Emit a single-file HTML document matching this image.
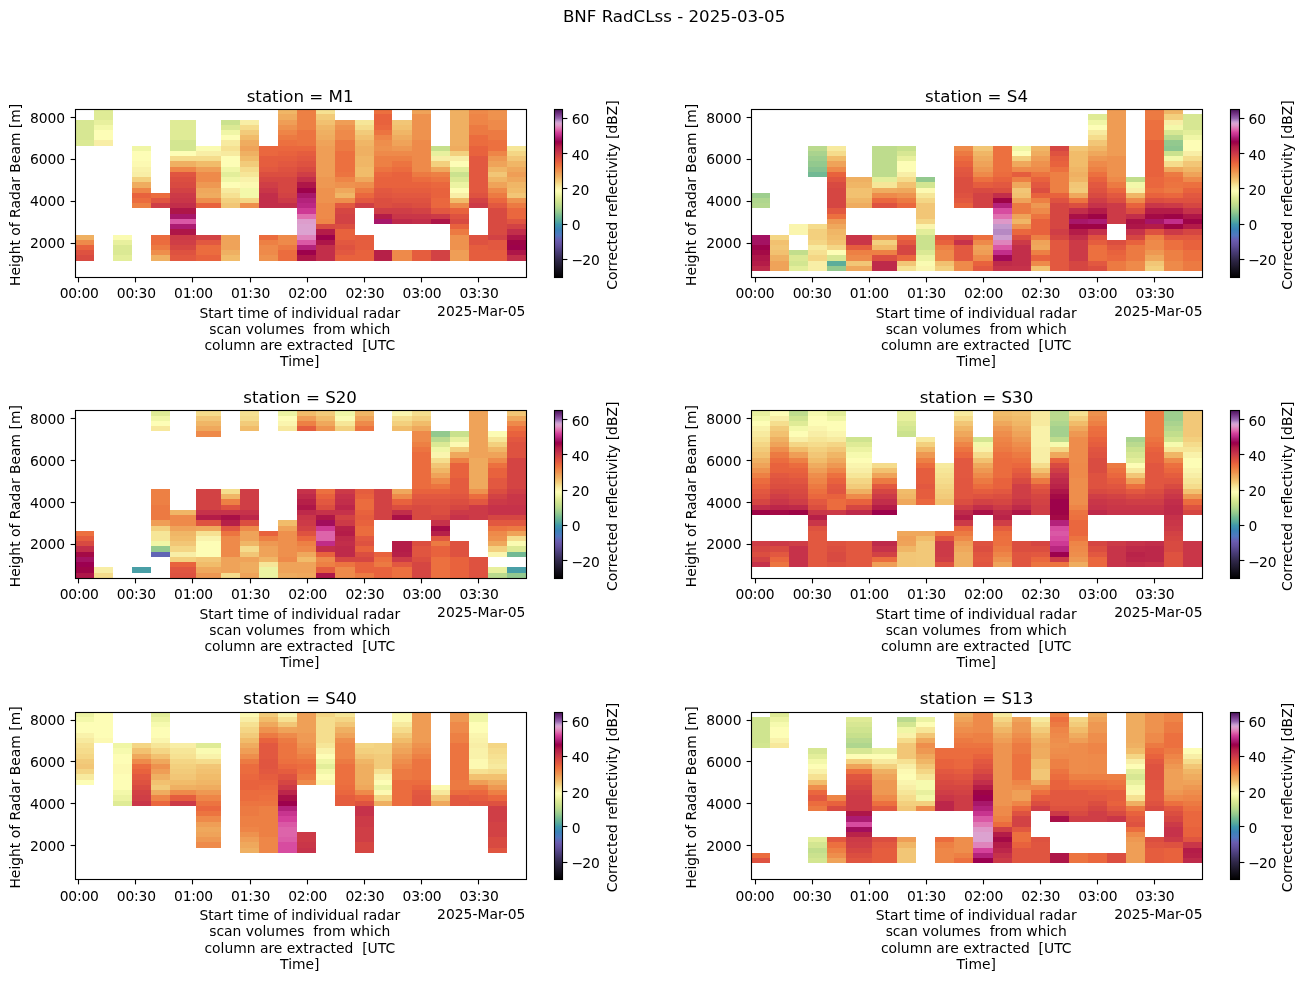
<!DOCTYPE html>
<html><head><meta charset="utf-8"><title>BNF RadCLss - 2025-03-05</title>
<style>html,body{margin:0;padding:0;background:#fff}svg{display:block}</style></head>
<body>
<svg width="1307" height="981" viewBox="0 0 1307 981" font-family="'DejaVu Sans', 'Liberation Sans', sans-serif" fill="#000">
<rect width="1307" height="981" fill="#fff"/>
<text x="674.1" y="21.9" font-size="16.67" text-anchor="middle">BNF RadCLss - 2025-03-05</text>
<defs><linearGradient id="cb" x1="0" y1="1" x2="0" y2="0">
<stop offset="0.0000" stop-color="#000000"/>
<stop offset="0.0105" stop-color="#050407"/>
<stop offset="0.0211" stop-color="#0a080e"/>
<stop offset="0.0316" stop-color="#0e0c15"/>
<stop offset="0.0421" stop-color="#13101c"/>
<stop offset="0.0526" stop-color="#181423"/>
<stop offset="0.0632" stop-color="#1d182b"/>
<stop offset="0.0737" stop-color="#221c33"/>
<stop offset="0.0842" stop-color="#26203a"/>
<stop offset="0.0947" stop-color="#2b2442"/>
<stop offset="0.1053" stop-color="#30284a"/>
<stop offset="0.1158" stop-color="#362d54"/>
<stop offset="0.1263" stop-color="#3b315e"/>
<stop offset="0.1368" stop-color="#413668"/>
<stop offset="0.1474" stop-color="#463a72"/>
<stop offset="0.1579" stop-color="#4c3f7c"/>
<stop offset="0.1684" stop-color="#524486"/>
<stop offset="0.1789" stop-color="#594990"/>
<stop offset="0.1895" stop-color="#5f4e9a"/>
<stop offset="0.2000" stop-color="#6353a1"/>
<stop offset="0.2105" stop-color="#6657a9"/>
<stop offset="0.2211" stop-color="#6a5cb0"/>
<stop offset="0.2316" stop-color="#6165b5"/>
<stop offset="0.2421" stop-color="#596fbb"/>
<stop offset="0.2526" stop-color="#5078c0"/>
<stop offset="0.2632" stop-color="#497bbd"/>
<stop offset="0.2737" stop-color="#427fbb"/>
<stop offset="0.2842" stop-color="#3b82b8"/>
<stop offset="0.2947" stop-color="#3c89b4"/>
<stop offset="0.3053" stop-color="#3e91b0"/>
<stop offset="0.3158" stop-color="#3f98ac"/>
<stop offset="0.3263" stop-color="#4ba1a4"/>
<stop offset="0.3368" stop-color="#57aa9c"/>
<stop offset="0.3474" stop-color="#62b099"/>
<stop offset="0.3579" stop-color="#6db695"/>
<stop offset="0.3684" stop-color="#78bc92"/>
<stop offset="0.3789" stop-color="#86c290"/>
<stop offset="0.3895" stop-color="#93c98e"/>
<stop offset="0.4000" stop-color="#9ece8e"/>
<stop offset="0.4105" stop-color="#aad38e"/>
<stop offset="0.4211" stop-color="#b5d88e"/>
<stop offset="0.4316" stop-color="#bedc8d"/>
<stop offset="0.4421" stop-color="#c7e08c"/>
<stop offset="0.4526" stop-color="#cfe48f"/>
<stop offset="0.4632" stop-color="#d7e793"/>
<stop offset="0.4737" stop-color="#dfeb96"/>
<stop offset="0.4842" stop-color="#e8f09e"/>
<stop offset="0.4947" stop-color="#f0f6a6"/>
<stop offset="0.5053" stop-color="#f6faae"/>
<stop offset="0.5158" stop-color="#fdfdb6"/>
<stop offset="0.5263" stop-color="#faf5ae"/>
<stop offset="0.5368" stop-color="#f8eea6"/>
<stop offset="0.5474" stop-color="#f6e698"/>
<stop offset="0.5579" stop-color="#f5dc8c"/>
<stop offset="0.5684" stop-color="#f3d07e"/>
<stop offset="0.5789" stop-color="#f2c676"/>
<stop offset="0.5895" stop-color="#f1bc6a"/>
<stop offset="0.6000" stop-color="#efb062"/>
<stop offset="0.6105" stop-color="#efa85c"/>
<stop offset="0.6211" stop-color="#ef9e56"/>
<stop offset="0.6316" stop-color="#ee924e"/>
<stop offset="0.6421" stop-color="#ee8a4a"/>
<stop offset="0.6526" stop-color="#ed8044"/>
<stop offset="0.6632" stop-color="#ec7440"/>
<stop offset="0.6737" stop-color="#eb6c3e"/>
<stop offset="0.6842" stop-color="#e8623d"/>
<stop offset="0.6947" stop-color="#e25840"/>
<stop offset="0.7053" stop-color="#de5240"/>
<stop offset="0.7158" stop-color="#d84a41"/>
<stop offset="0.7263" stop-color="#d24244"/>
<stop offset="0.7368" stop-color="#cc3a47"/>
<stop offset="0.7474" stop-color="#c6324a"/>
<stop offset="0.7579" stop-color="#be2a4a"/>
<stop offset="0.7684" stop-color="#b92349"/>
<stop offset="0.7789" stop-color="#b41c48"/>
<stop offset="0.7895" stop-color="#a91047"/>
<stop offset="0.8000" stop-color="#9e0446"/>
<stop offset="0.8105" stop-color="#9c0050"/>
<stop offset="0.8211" stop-color="#a41262"/>
<stop offset="0.8316" stop-color="#ac1c72"/>
<stop offset="0.8421" stop-color="#bc2884"/>
<stop offset="0.8526" stop-color="#c8348f"/>
<stop offset="0.8632" stop-color="#d4409a"/>
<stop offset="0.8737" stop-color="#da58a5"/>
<stop offset="0.8842" stop-color="#e070b0"/>
<stop offset="0.8947" stop-color="#df84bc"/>
<stop offset="0.9053" stop-color="#de98c8"/>
<stop offset="0.9158" stop-color="#dca2d0"/>
<stop offset="0.9263" stop-color="#c89ed0"/>
<stop offset="0.9368" stop-color="#ae80be"/>
<stop offset="0.9474" stop-color="#9462ac"/>
<stop offset="0.9579" stop-color="#884f9d"/>
<stop offset="0.9684" stop-color="#7b3c8e"/>
<stop offset="0.9789" stop-color="#6b2e7c"/>
<stop offset="0.9895" stop-color="#5a206b"/>
<stop offset="1.0000" stop-color="#4a1259"/>
</linearGradient></defs>
<g>
<g shape-rendering="crispEdges">
<rect x="75" y="120" width="19" height="20" fill="#d7e793"/>
<rect x="75" y="140" width="19" height="6" fill="#dbe994"/>
<rect x="75" y="235" width="19" height="5" fill="#efb062"/>
<rect x="75" y="240" width="19" height="5" fill="#ee8a4a"/>
<rect x="75" y="245" width="19" height="5" fill="#e8623d"/>
<rect x="75" y="250" width="19" height="5" fill="#de5240"/>
<rect x="75" y="255" width="19" height="6" fill="#d84a41"/>
<rect x="94" y="109" width="19" height="11" fill="#dfeb96"/>
<rect x="94" y="120" width="19" height="5" fill="#e8f09e"/>
<rect x="94" y="125" width="19" height="5" fill="#f3f8aa"/>
<rect x="94" y="130" width="19" height="10" fill="#fdfdb6"/>
<rect x="94" y="140" width="19" height="6" fill="#f8eea6"/>
<rect x="113" y="235" width="19" height="5" fill="#fafbb2"/>
<rect x="113" y="240" width="19" height="5" fill="#e8f09e"/>
<rect x="113" y="245" width="19" height="10" fill="#dbe994"/>
<rect x="113" y="255" width="19" height="6" fill="#e3ee9a"/>
<rect x="132" y="146" width="19" height="5" fill="#f0f6a6"/>
<rect x="132" y="151" width="19" height="10" fill="#fdfdb6"/>
<rect x="132" y="161" width="19" height="6" fill="#fcf9b2"/>
<rect x="132" y="167" width="19" height="5" fill="#f9f2aa"/>
<rect x="132" y="172" width="19" height="5" fill="#f8eea6"/>
<rect x="132" y="177" width="19" height="5" fill="#f3d07e"/>
<rect x="132" y="182" width="19" height="6" fill="#efac5f"/>
<rect x="132" y="188" width="19" height="5" fill="#ee8547"/>
<rect x="132" y="193" width="19" height="5" fill="#e8623d"/>
<rect x="132" y="198" width="19" height="5" fill="#eb6c3e"/>
<rect x="132" y="203" width="19" height="5" fill="#ed8044"/>
<rect x="151" y="193" width="19" height="5" fill="#eb6c3e"/>
<rect x="151" y="198" width="19" height="5" fill="#e05540"/>
<rect x="151" y="203" width="19" height="5" fill="#cf3e46"/>
<rect x="151" y="235" width="19" height="10" fill="#eb6c3e"/>
<rect x="151" y="245" width="19" height="5" fill="#ec7a42"/>
<rect x="151" y="250" width="19" height="5" fill="#ee8e4c"/>
<rect x="151" y="255" width="19" height="6" fill="#efb062"/>
<rect x="170" y="120" width="26" height="20" fill="#dfeb96"/>
<rect x="170" y="140" width="26" height="11" fill="#d3e691"/>
<rect x="170" y="151" width="26" height="5" fill="#fdfdb6"/>
<rect x="170" y="156" width="26" height="5" fill="#f5dc8c"/>
<rect x="170" y="161" width="26" height="6" fill="#efb062"/>
<rect x="170" y="167" width="26" height="5" fill="#ee8547"/>
<rect x="170" y="172" width="26" height="5" fill="#e05540"/>
<rect x="170" y="177" width="26" height="5" fill="#db4e40"/>
<rect x="170" y="182" width="26" height="6" fill="#d84a41"/>
<rect x="170" y="188" width="26" height="5" fill="#d24244"/>
<rect x="170" y="193" width="26" height="5" fill="#cc3a47"/>
<rect x="170" y="198" width="26" height="5" fill="#c93648"/>
<rect x="170" y="203" width="26" height="5" fill="#c22e4a"/>
<rect x="170" y="208" width="26" height="6" fill="#ae1648"/>
<rect x="170" y="214" width="26" height="5" fill="#a8176a"/>
<rect x="170" y="219" width="26" height="5" fill="#da58a5"/>
<rect x="170" y="224" width="26" height="5" fill="#ac1c72"/>
<rect x="170" y="229" width="26" height="6" fill="#ae1648"/>
<rect x="170" y="235" width="26" height="5" fill="#cc3a47"/>
<rect x="170" y="240" width="26" height="5" fill="#cf3e46"/>
<rect x="170" y="245" width="26" height="5" fill="#d54642"/>
<rect x="170" y="250" width="26" height="5" fill="#de5240"/>
<rect x="170" y="255" width="26" height="6" fill="#e25840"/>
<rect x="196" y="146" width="25" height="5" fill="#fafbb2"/>
<rect x="196" y="151" width="25" height="5" fill="#f8eea6"/>
<rect x="196" y="156" width="25" height="5" fill="#f5dc8c"/>
<rect x="196" y="161" width="25" height="6" fill="#f1bc6a"/>
<rect x="196" y="167" width="25" height="5" fill="#ef9e56"/>
<rect x="196" y="172" width="25" height="10" fill="#ee8a4a"/>
<rect x="196" y="182" width="25" height="6" fill="#ee9852"/>
<rect x="196" y="188" width="25" height="5" fill="#efa85c"/>
<rect x="196" y="193" width="25" height="5" fill="#efac5f"/>
<rect x="196" y="198" width="25" height="5" fill="#ee8e4c"/>
<rect x="196" y="203" width="25" height="5" fill="#e8623d"/>
<rect x="196" y="235" width="25" height="5" fill="#d24244"/>
<rect x="196" y="240" width="25" height="5" fill="#e25840"/>
<rect x="196" y="245" width="25" height="10" fill="#eb6c3e"/>
<rect x="196" y="255" width="25" height="6" fill="#e8623d"/>
<rect x="221" y="120" width="19" height="5" fill="#cbe28e"/>
<rect x="221" y="125" width="19" height="5" fill="#dbe994"/>
<rect x="221" y="130" width="19" height="5" fill="#f0f6a6"/>
<rect x="221" y="135" width="19" height="5" fill="#fdfdb6"/>
<rect x="221" y="140" width="19" height="6" fill="#f7ea9f"/>
<rect x="221" y="146" width="19" height="5" fill="#f6e192"/>
<rect x="221" y="151" width="19" height="5" fill="#f7ea9f"/>
<rect x="221" y="156" width="19" height="11" fill="#fdfdb6"/>
<rect x="221" y="167" width="19" height="5" fill="#f0f6a6"/>
<rect x="221" y="172" width="19" height="5" fill="#e3ee9a"/>
<rect x="221" y="177" width="19" height="5" fill="#f0f6a6"/>
<rect x="221" y="182" width="19" height="6" fill="#fdfdb6"/>
<rect x="221" y="188" width="19" height="5" fill="#f7ea9f"/>
<rect x="221" y="193" width="19" height="5" fill="#f6e192"/>
<rect x="221" y="198" width="19" height="5" fill="#f3d07e"/>
<rect x="221" y="203" width="19" height="5" fill="#f2c676"/>
<rect x="221" y="235" width="19" height="15" fill="#efa359"/>
<rect x="221" y="250" width="19" height="5" fill="#efb062"/>
<rect x="221" y="255" width="19" height="6" fill="#f1bc6a"/>
<rect x="240" y="120" width="19" height="5" fill="#f8eea6"/>
<rect x="240" y="125" width="19" height="5" fill="#f5dc8c"/>
<rect x="240" y="130" width="19" height="5" fill="#f2cb7a"/>
<rect x="240" y="135" width="19" height="5" fill="#f1bc6a"/>
<rect x="240" y="140" width="19" height="6" fill="#efac5f"/>
<rect x="240" y="146" width="19" height="5" fill="#efa359"/>
<rect x="240" y="151" width="19" height="5" fill="#efb062"/>
<rect x="240" y="156" width="19" height="5" fill="#f1bc6a"/>
<rect x="240" y="161" width="19" height="6" fill="#f2cb7a"/>
<rect x="240" y="167" width="19" height="5" fill="#f5dc8c"/>
<rect x="240" y="172" width="19" height="5" fill="#f6e698"/>
<rect x="240" y="177" width="19" height="5" fill="#f9f2aa"/>
<rect x="240" y="182" width="19" height="6" fill="#fcf9b2"/>
<rect x="240" y="188" width="19" height="10" fill="#f3f8aa"/>
<rect x="240" y="198" width="19" height="5" fill="#f4d685"/>
<rect x="240" y="203" width="19" height="5" fill="#ee8e4c"/>
<rect x="259" y="146" width="19" height="10" fill="#ea673e"/>
<rect x="259" y="156" width="19" height="11" fill="#e55d3e"/>
<rect x="259" y="167" width="19" height="5" fill="#e25840"/>
<rect x="259" y="172" width="19" height="5" fill="#db4e40"/>
<rect x="259" y="177" width="19" height="5" fill="#d54642"/>
<rect x="259" y="182" width="19" height="6" fill="#cf3e46"/>
<rect x="259" y="188" width="19" height="5" fill="#c93648"/>
<rect x="259" y="193" width="19" height="15" fill="#c22e4a"/>
<rect x="259" y="235" width="19" height="5" fill="#eb6c3e"/>
<rect x="259" y="240" width="19" height="5" fill="#ed8044"/>
<rect x="259" y="245" width="19" height="10" fill="#ee8a4a"/>
<rect x="259" y="255" width="19" height="6" fill="#ee924e"/>
<rect x="278" y="109" width="19" height="5" fill="#f0b666"/>
<rect x="278" y="114" width="19" height="6" fill="#efac5f"/>
<rect x="278" y="120" width="19" height="5" fill="#ef9e56"/>
<rect x="278" y="125" width="19" height="5" fill="#ee924e"/>
<rect x="278" y="130" width="19" height="5" fill="#ee8547"/>
<rect x="278" y="135" width="19" height="5" fill="#ec7a42"/>
<rect x="278" y="140" width="19" height="6" fill="#ec703f"/>
<rect x="278" y="146" width="19" height="5" fill="#ea673e"/>
<rect x="278" y="151" width="19" height="5" fill="#e8623d"/>
<rect x="278" y="156" width="19" height="5" fill="#e55d3e"/>
<rect x="278" y="161" width="19" height="6" fill="#e25840"/>
<rect x="278" y="167" width="19" height="5" fill="#de5240"/>
<rect x="278" y="172" width="19" height="5" fill="#db4e40"/>
<rect x="278" y="177" width="19" height="16" fill="#d54642"/>
<rect x="278" y="193" width="19" height="5" fill="#d24244"/>
<rect x="278" y="198" width="19" height="5" fill="#cc3a47"/>
<rect x="278" y="203" width="19" height="5" fill="#c22e4a"/>
<rect x="278" y="235" width="19" height="10" fill="#ee8a4a"/>
<rect x="278" y="245" width="19" height="5" fill="#ec7a42"/>
<rect x="278" y="250" width="19" height="11" fill="#eb6c3e"/>
<rect x="297" y="109" width="19" height="21" fill="#ed8044"/>
<rect x="297" y="130" width="19" height="16" fill="#ec7440"/>
<rect x="297" y="146" width="19" height="5" fill="#ea673e"/>
<rect x="297" y="151" width="19" height="5" fill="#e55d3e"/>
<rect x="297" y="156" width="19" height="5" fill="#e25840"/>
<rect x="297" y="161" width="19" height="6" fill="#de5240"/>
<rect x="297" y="167" width="19" height="5" fill="#d84a41"/>
<rect x="297" y="172" width="19" height="5" fill="#cf3e46"/>
<rect x="297" y="177" width="19" height="5" fill="#c22e4a"/>
<rect x="297" y="182" width="19" height="6" fill="#ae1648"/>
<rect x="297" y="188" width="19" height="5" fill="#9d024b"/>
<rect x="297" y="193" width="19" height="5" fill="#a8176a"/>
<rect x="297" y="198" width="19" height="5" fill="#b4227b"/>
<rect x="297" y="203" width="19" height="5" fill="#bc2884"/>
<rect x="297" y="208" width="19" height="6" fill="#ce3a94"/>
<rect x="297" y="214" width="19" height="5" fill="#e070b0"/>
<rect x="297" y="219" width="19" height="5" fill="#dd9dcc"/>
<rect x="297" y="224" width="19" height="11" fill="#dca2d0"/>
<rect x="297" y="235" width="19" height="5" fill="#df84bc"/>
<rect x="297" y="240" width="19" height="5" fill="#da58a5"/>
<rect x="297" y="245" width="19" height="5" fill="#b4227b"/>
<rect x="297" y="250" width="19" height="5" fill="#9d024b"/>
<rect x="297" y="255" width="19" height="6" fill="#ae1648"/>
<rect x="316" y="109" width="19" height="5" fill="#f6e192"/>
<rect x="316" y="114" width="19" height="6" fill="#f2cb7a"/>
<rect x="316" y="120" width="19" height="5" fill="#f2c170"/>
<rect x="316" y="125" width="19" height="5" fill="#f0b666"/>
<rect x="316" y="130" width="19" height="5" fill="#efb062"/>
<rect x="316" y="135" width="19" height="5" fill="#efac5f"/>
<rect x="316" y="140" width="19" height="6" fill="#efa359"/>
<rect x="316" y="146" width="19" height="31" fill="#ef9e56"/>
<rect x="316" y="177" width="19" height="11" fill="#ee9852"/>
<rect x="316" y="188" width="19" height="15" fill="#ee924e"/>
<rect x="316" y="203" width="19" height="16" fill="#ee8a4a"/>
<rect x="316" y="219" width="19" height="5" fill="#ee8547"/>
<rect x="316" y="224" width="19" height="5" fill="#d84a41"/>
<rect x="316" y="229" width="19" height="6" fill="#b41c48"/>
<rect x="316" y="235" width="19" height="5" fill="#9d024b"/>
<rect x="316" y="240" width="19" height="5" fill="#ae1648"/>
<rect x="316" y="245" width="19" height="16" fill="#c22e4a"/>
<rect x="335" y="120" width="20" height="5" fill="#ef9e56"/>
<rect x="335" y="125" width="20" height="5" fill="#ee924e"/>
<rect x="335" y="130" width="20" height="10" fill="#ee8a4a"/>
<rect x="335" y="140" width="20" height="11" fill="#ec7a42"/>
<rect x="335" y="151" width="20" height="21" fill="#ec703f"/>
<rect x="335" y="172" width="20" height="5" fill="#ec7440"/>
<rect x="335" y="177" width="20" height="5" fill="#ee8547"/>
<rect x="335" y="182" width="20" height="6" fill="#ee924e"/>
<rect x="335" y="188" width="20" height="5" fill="#efa85c"/>
<rect x="335" y="193" width="20" height="5" fill="#f0b666"/>
<rect x="335" y="198" width="20" height="5" fill="#ee8e4c"/>
<rect x="335" y="203" width="20" height="5" fill="#e25840"/>
<rect x="335" y="208" width="20" height="6" fill="#d54642"/>
<rect x="335" y="214" width="20" height="10" fill="#d24244"/>
<rect x="335" y="224" width="20" height="5" fill="#db4e40"/>
<rect x="335" y="229" width="20" height="11" fill="#e8623d"/>
<rect x="335" y="240" width="20" height="5" fill="#e25840"/>
<rect x="335" y="245" width="20" height="5" fill="#de5240"/>
<rect x="335" y="250" width="20" height="5" fill="#e25840"/>
<rect x="335" y="255" width="20" height="6" fill="#e8623d"/>
<rect x="355" y="120" width="19" height="5" fill="#f6e698"/>
<rect x="355" y="125" width="19" height="5" fill="#f5dc8c"/>
<rect x="355" y="130" width="19" height="5" fill="#f2cb7a"/>
<rect x="355" y="135" width="19" height="5" fill="#f2c170"/>
<rect x="355" y="140" width="19" height="6" fill="#f0b666"/>
<rect x="355" y="146" width="19" height="10" fill="#efb062"/>
<rect x="355" y="156" width="19" height="11" fill="#f0b666"/>
<rect x="355" y="167" width="19" height="10" fill="#f1bc6a"/>
<rect x="355" y="177" width="19" height="5" fill="#efa85c"/>
<rect x="355" y="182" width="19" height="6" fill="#ee8e4c"/>
<rect x="355" y="188" width="19" height="5" fill="#ec7a42"/>
<rect x="355" y="193" width="19" height="5" fill="#ea673e"/>
<rect x="355" y="198" width="19" height="5" fill="#e25840"/>
<rect x="355" y="203" width="19" height="5" fill="#cf3e46"/>
<rect x="355" y="235" width="19" height="15" fill="#e55d3e"/>
<rect x="355" y="250" width="19" height="11" fill="#e8623d"/>
<rect x="374" y="109" width="18" height="5" fill="#ec703f"/>
<rect x="374" y="114" width="18" height="11" fill="#e8623d"/>
<rect x="374" y="125" width="18" height="5" fill="#ea673e"/>
<rect x="374" y="130" width="18" height="5" fill="#ec7440"/>
<rect x="374" y="135" width="18" height="5" fill="#ee8547"/>
<rect x="374" y="140" width="18" height="6" fill="#ee8e4c"/>
<rect x="374" y="146" width="18" height="5" fill="#ee924e"/>
<rect x="374" y="151" width="18" height="5" fill="#ee8a4a"/>
<rect x="374" y="156" width="18" height="11" fill="#ed8044"/>
<rect x="374" y="167" width="18" height="5" fill="#ec7440"/>
<rect x="374" y="172" width="18" height="5" fill="#ea673e"/>
<rect x="374" y="177" width="18" height="11" fill="#e8623d"/>
<rect x="374" y="188" width="18" height="5" fill="#e25840"/>
<rect x="374" y="193" width="18" height="5" fill="#e05540"/>
<rect x="374" y="198" width="18" height="10" fill="#db4e40"/>
<rect x="374" y="208" width="18" height="6" fill="#cf3e46"/>
<rect x="374" y="214" width="18" height="5" fill="#b41c48"/>
<rect x="374" y="219" width="18" height="5" fill="#a8176a"/>
<rect x="374" y="250" width="18" height="11" fill="#b62048"/>
<rect x="392" y="120" width="20" height="5" fill="#f2c676"/>
<rect x="392" y="125" width="20" height="5" fill="#f2c170"/>
<rect x="392" y="130" width="20" height="5" fill="#f0b666"/>
<rect x="392" y="135" width="20" height="5" fill="#efac5f"/>
<rect x="392" y="140" width="20" height="6" fill="#efa359"/>
<rect x="392" y="146" width="20" height="5" fill="#ee9852"/>
<rect x="392" y="151" width="20" height="5" fill="#ee8a4a"/>
<rect x="392" y="156" width="20" height="5" fill="#ed8044"/>
<rect x="392" y="161" width="20" height="6" fill="#ec7440"/>
<rect x="392" y="167" width="20" height="5" fill="#eb6c3e"/>
<rect x="392" y="172" width="20" height="16" fill="#e8623d"/>
<rect x="392" y="188" width="20" height="5" fill="#e55d3e"/>
<rect x="392" y="193" width="20" height="5" fill="#e25840"/>
<rect x="392" y="198" width="20" height="5" fill="#de5240"/>
<rect x="392" y="203" width="20" height="5" fill="#d84a41"/>
<rect x="392" y="208" width="20" height="6" fill="#cf3e46"/>
<rect x="392" y="214" width="20" height="5" fill="#c93648"/>
<rect x="392" y="219" width="20" height="5" fill="#be2a4a"/>
<rect x="392" y="250" width="20" height="11" fill="#ee8a4a"/>
<rect x="412" y="109" width="19" height="5" fill="#efa359"/>
<rect x="412" y="114" width="19" height="26" fill="#ee924e"/>
<rect x="412" y="140" width="19" height="32" fill="#ee8a4a"/>
<rect x="412" y="172" width="19" height="5" fill="#ec7a42"/>
<rect x="412" y="177" width="19" height="5" fill="#eb6c3e"/>
<rect x="412" y="182" width="19" height="6" fill="#e8623d"/>
<rect x="412" y="188" width="19" height="5" fill="#e55d3e"/>
<rect x="412" y="193" width="19" height="5" fill="#e25840"/>
<rect x="412" y="198" width="19" height="5" fill="#de5240"/>
<rect x="412" y="203" width="19" height="5" fill="#db4e40"/>
<rect x="412" y="208" width="19" height="6" fill="#d24244"/>
<rect x="412" y="214" width="19" height="5" fill="#c93648"/>
<rect x="412" y="219" width="19" height="5" fill="#c22e4a"/>
<rect x="412" y="250" width="19" height="11" fill="#e55d3e"/>
<rect x="431" y="146" width="19" height="5" fill="#c7e08c"/>
<rect x="431" y="151" width="19" height="5" fill="#e8f09e"/>
<rect x="431" y="156" width="19" height="5" fill="#f8eea6"/>
<rect x="431" y="161" width="19" height="6" fill="#f3d07e"/>
<rect x="431" y="167" width="19" height="5" fill="#efa85c"/>
<rect x="431" y="172" width="19" height="5" fill="#ed8044"/>
<rect x="431" y="177" width="19" height="5" fill="#ec7440"/>
<rect x="431" y="182" width="19" height="6" fill="#ea673e"/>
<rect x="431" y="188" width="19" height="10" fill="#e8623d"/>
<rect x="431" y="198" width="19" height="10" fill="#ea673e"/>
<rect x="431" y="208" width="19" height="6" fill="#e25840"/>
<rect x="431" y="214" width="19" height="5" fill="#cc3a47"/>
<rect x="431" y="219" width="19" height="5" fill="#ae1648"/>
<rect x="431" y="250" width="19" height="11" fill="#d24244"/>
<rect x="450" y="109" width="19" height="37" fill="#efb062"/>
<rect x="450" y="146" width="19" height="5" fill="#efac5f"/>
<rect x="450" y="151" width="19" height="5" fill="#f3d07e"/>
<rect x="450" y="156" width="19" height="5" fill="#f8eea6"/>
<rect x="450" y="161" width="19" height="6" fill="#fdfdb6"/>
<rect x="450" y="167" width="19" height="5" fill="#e3ee9a"/>
<rect x="450" y="172" width="19" height="5" fill="#cbe28e"/>
<rect x="450" y="177" width="19" height="5" fill="#dbe994"/>
<rect x="450" y="182" width="19" height="6" fill="#ecf3a2"/>
<rect x="450" y="188" width="19" height="5" fill="#fdfdb6"/>
<rect x="450" y="193" width="19" height="5" fill="#f8eea6"/>
<rect x="450" y="198" width="19" height="5" fill="#f1bc6a"/>
<rect x="450" y="203" width="19" height="5" fill="#ee8a4a"/>
<rect x="450" y="208" width="19" height="6" fill="#e8623d"/>
<rect x="450" y="214" width="19" height="5" fill="#de5240"/>
<rect x="450" y="219" width="19" height="5" fill="#d84a41"/>
<rect x="450" y="224" width="19" height="5" fill="#e8623d"/>
<rect x="450" y="229" width="19" height="6" fill="#ec7a42"/>
<rect x="450" y="235" width="19" height="15" fill="#ee924e"/>
<rect x="450" y="250" width="19" height="11" fill="#ef9e56"/>
<rect x="469" y="109" width="19" height="5" fill="#ee8a4a"/>
<rect x="469" y="114" width="19" height="11" fill="#ee8547"/>
<rect x="469" y="125" width="19" height="10" fill="#ec7a42"/>
<rect x="469" y="135" width="19" height="11" fill="#eb6c3e"/>
<rect x="469" y="146" width="19" height="10" fill="#e8623d"/>
<rect x="469" y="156" width="19" height="37" fill="#e25840"/>
<rect x="469" y="193" width="19" height="5" fill="#de5240"/>
<rect x="469" y="198" width="19" height="5" fill="#d24244"/>
<rect x="469" y="203" width="19" height="5" fill="#cc3a47"/>
<rect x="469" y="235" width="19" height="10" fill="#de5240"/>
<rect x="469" y="245" width="19" height="16" fill="#e55d3e"/>
<rect x="488" y="109" width="19" height="11" fill="#ee924e"/>
<rect x="488" y="120" width="19" height="10" fill="#ee8a4a"/>
<rect x="488" y="130" width="19" height="10" fill="#ec7a42"/>
<rect x="488" y="140" width="19" height="11" fill="#ec703f"/>
<rect x="488" y="151" width="19" height="5" fill="#ee8547"/>
<rect x="488" y="156" width="19" height="5" fill="#ee9852"/>
<rect x="488" y="161" width="19" height="6" fill="#efa359"/>
<rect x="488" y="167" width="19" height="5" fill="#f0b666"/>
<rect x="488" y="172" width="19" height="5" fill="#f2c676"/>
<rect x="488" y="177" width="19" height="5" fill="#f0b666"/>
<rect x="488" y="182" width="19" height="6" fill="#efa359"/>
<rect x="488" y="188" width="19" height="5" fill="#ee8a4a"/>
<rect x="488" y="193" width="19" height="5" fill="#ec7a42"/>
<rect x="488" y="198" width="19" height="5" fill="#ea673e"/>
<rect x="488" y="203" width="19" height="5" fill="#e25840"/>
<rect x="488" y="208" width="19" height="27" fill="#d84a41"/>
<rect x="488" y="235" width="19" height="5" fill="#d24244"/>
<rect x="488" y="240" width="19" height="10" fill="#e25840"/>
<rect x="488" y="250" width="19" height="11" fill="#e55d3e"/>
<rect x="507" y="146" width="19" height="5" fill="#f6e698"/>
<rect x="507" y="151" width="19" height="5" fill="#f4d685"/>
<rect x="507" y="156" width="19" height="5" fill="#f2c676"/>
<rect x="507" y="161" width="19" height="6" fill="#f0b666"/>
<rect x="507" y="167" width="19" height="5" fill="#efa85c"/>
<rect x="507" y="172" width="19" height="5" fill="#ef9e56"/>
<rect x="507" y="177" width="19" height="5" fill="#efa85c"/>
<rect x="507" y="182" width="19" height="6" fill="#f0b666"/>
<rect x="507" y="188" width="19" height="5" fill="#f1bc6a"/>
<rect x="507" y="193" width="19" height="5" fill="#f2c676"/>
<rect x="507" y="198" width="19" height="5" fill="#ee924e"/>
<rect x="507" y="203" width="19" height="5" fill="#ec7a42"/>
<rect x="507" y="208" width="19" height="11" fill="#ea673e"/>
<rect x="507" y="219" width="19" height="5" fill="#e05540"/>
<rect x="507" y="224" width="19" height="5" fill="#d24244"/>
<rect x="507" y="229" width="19" height="6" fill="#c22e4a"/>
<rect x="507" y="235" width="19" height="5" fill="#ae1648"/>
<rect x="507" y="240" width="19" height="5" fill="#9e0446"/>
<rect x="507" y="245" width="19" height="5" fill="#9d024b"/>
<rect x="507" y="250" width="19" height="5" fill="#ae1648"/>
<rect x="507" y="255" width="19" height="6" fill="#c22e4a"/>
</g>
<rect x="75.5" y="109.5" width="451.0" height="168.0" fill="none" stroke="#000" stroke-width="1.11"/>
<text x="300.1" y="102.0" font-size="16.67" text-anchor="middle">station = M1</text>
<path d="M75.5 117.5h-4.9" stroke="#000" stroke-width="1.11"/>
<text x="65.2" y="122.5" font-size="13.89" text-anchor="end">8000</text>
<path d="M75.5 159.5h-4.9" stroke="#000" stroke-width="1.11"/>
<text x="65.2" y="164.3" font-size="13.89" text-anchor="end">6000</text>
<path d="M75.5 201.5h-4.9" stroke="#000" stroke-width="1.11"/>
<text x="65.2" y="206.2" font-size="13.89" text-anchor="end">4000</text>
<path d="M75.5 243.5h-4.9" stroke="#000" stroke-width="1.11"/>
<text x="65.2" y="248.0" font-size="13.89" text-anchor="end">2000</text>
<path d="M78.5 277.5v4.9" stroke="#000" stroke-width="1.11"/>
<text x="79.2" y="297.8" font-size="13.89" text-anchor="middle" letter-spacing="-0.2">00:00</text>
<path d="M135.5 277.5v4.9" stroke="#000" stroke-width="1.11"/>
<text x="136.3" y="297.8" font-size="13.89" text-anchor="middle" letter-spacing="-0.2">00:30</text>
<path d="M192.5 277.5v4.9" stroke="#000" stroke-width="1.11"/>
<text x="193.5" y="297.8" font-size="13.89" text-anchor="middle" letter-spacing="-0.2">01:00</text>
<path d="M250.5 277.5v4.9" stroke="#000" stroke-width="1.11"/>
<text x="250.6" y="297.8" font-size="13.89" text-anchor="middle" letter-spacing="-0.2">01:30</text>
<path d="M307.5 277.5v4.9" stroke="#000" stroke-width="1.11"/>
<text x="307.7" y="297.8" font-size="13.89" text-anchor="middle" letter-spacing="-0.2">02:00</text>
<path d="M364.5 277.5v4.9" stroke="#000" stroke-width="1.11"/>
<text x="364.9" y="297.8" font-size="13.89" text-anchor="middle" letter-spacing="-0.2">02:30</text>
<path d="M421.5 277.5v4.9" stroke="#000" stroke-width="1.11"/>
<text x="422.0" y="297.8" font-size="13.89" text-anchor="middle" letter-spacing="-0.2">03:00</text>
<path d="M478.5 277.5v4.9" stroke="#000" stroke-width="1.11"/>
<text x="479.1" y="297.8" font-size="13.89" text-anchor="middle" letter-spacing="-0.2">03:30</text>
<text x="525.4" y="316.0" font-size="13.89" text-anchor="end">2025-Mar-05</text>
<text x="299.8" y="317.73" font-size="13.89" text-anchor="middle" xml:space="preserve">Start time of individual radar</text>
<text x="299.8" y="333.73" font-size="13.89" text-anchor="middle" xml:space="preserve">scan volumes  from which</text>
<text x="299.8" y="349.7" font-size="13.89" text-anchor="middle" xml:space="preserve">column are extracted  [UTC</text>
<text x="299.8" y="365.5" font-size="13.89" text-anchor="middle" xml:space="preserve">Time]</text>
<text transform="translate(19.9 194.9) rotate(-90)" font-size="13.89" text-anchor="middle">Height of Radar Beam [m]</text>
<rect x="554.5" y="109.5" width="8.0" height="168.0" fill="url(#cb)" stroke="#000" stroke-width="1.11"/>
<path d="M562.5 259.5h4.9" stroke="#000" stroke-width="1.11"/>
<text x="571.5" y="265.2" font-size="13.89">−<tspan dx="-0.9">20</tspan></text>
<path d="M562.5 224.5h4.9" stroke="#000" stroke-width="1.11"/>
<text x="571.8" y="230.0" font-size="13.89">0</text>
<path d="M562.5 188.5h4.9" stroke="#000" stroke-width="1.11"/>
<text x="571.8" y="194.8" font-size="13.89">20</text>
<path d="M562.5 153.5h4.9" stroke="#000" stroke-width="1.11"/>
<text x="571.8" y="159.6" font-size="13.89">40</text>
<path d="M562.5 118.5h4.9" stroke="#000" stroke-width="1.11"/>
<text x="571.8" y="124.3" font-size="13.89">60</text>
<text transform="translate(617.1 195.0) rotate(-90)" font-size="13.89" text-anchor="middle">Corrected reflectivity [dBZ]</text>
</g>
<g>
<g shape-rendering="crispEdges">
<rect x="751" y="193" width="19" height="5" fill="#9ece8e"/>
<rect x="751" y="198" width="19" height="5" fill="#afd68e"/>
<rect x="751" y="203" width="19" height="5" fill="#b5d88e"/>
<rect x="751" y="235" width="19" height="10" fill="#a41262"/>
<rect x="751" y="245" width="19" height="5" fill="#9d024b"/>
<rect x="751" y="250" width="19" height="5" fill="#a40a46"/>
<rect x="751" y="255" width="19" height="6" fill="#ae1648"/>
<rect x="751" y="261" width="19" height="5" fill="#b41c48"/>
<rect x="751" y="266" width="19" height="5" fill="#be2a4a"/>
<rect x="770" y="235" width="19" height="5" fill="#f4d685"/>
<rect x="770" y="240" width="19" height="5" fill="#f2c170"/>
<rect x="770" y="245" width="19" height="5" fill="#f2c676"/>
<rect x="770" y="250" width="19" height="5" fill="#f2c170"/>
<rect x="770" y="255" width="19" height="6" fill="#efb062"/>
<rect x="770" y="261" width="19" height="10" fill="#efa359"/>
<rect x="789" y="224" width="19" height="11" fill="#faf5ae"/>
<rect x="789" y="250" width="19" height="5" fill="#c2de8c"/>
<rect x="789" y="255" width="19" height="6" fill="#dbe994"/>
<rect x="789" y="261" width="19" height="5" fill="#d3e691"/>
<rect x="789" y="266" width="19" height="5" fill="#e3ee9a"/>
<rect x="808" y="146" width="19" height="5" fill="#bada8e"/>
<rect x="808" y="151" width="19" height="5" fill="#aad38e"/>
<rect x="808" y="156" width="19" height="5" fill="#9ece8e"/>
<rect x="808" y="161" width="19" height="6" fill="#93c98e"/>
<rect x="808" y="167" width="19" height="5" fill="#86c290"/>
<rect x="808" y="172" width="19" height="5" fill="#72b994"/>
<rect x="808" y="224" width="19" height="5" fill="#f5dc8c"/>
<rect x="808" y="229" width="19" height="11" fill="#f3d07e"/>
<rect x="808" y="240" width="19" height="5" fill="#f4d685"/>
<rect x="808" y="245" width="19" height="5" fill="#f7ea9f"/>
<rect x="808" y="250" width="19" height="5" fill="#f6e192"/>
<rect x="808" y="255" width="19" height="6" fill="#f4d685"/>
<rect x="808" y="261" width="19" height="10" fill="#f8eea6"/>
<rect x="827" y="146" width="19" height="5" fill="#f7ea9f"/>
<rect x="827" y="151" width="19" height="5" fill="#f5dc8c"/>
<rect x="827" y="156" width="19" height="5" fill="#f1bc6a"/>
<rect x="827" y="161" width="19" height="6" fill="#efa359"/>
<rect x="827" y="167" width="19" height="5" fill="#ee8a4a"/>
<rect x="827" y="172" width="19" height="5" fill="#e8623d"/>
<rect x="827" y="177" width="19" height="5" fill="#e05540"/>
<rect x="827" y="182" width="19" height="6" fill="#d84a41"/>
<rect x="827" y="188" width="19" height="20" fill="#d54642"/>
<rect x="827" y="208" width="19" height="6" fill="#e25840"/>
<rect x="827" y="214" width="19" height="5" fill="#ec703f"/>
<rect x="827" y="219" width="19" height="5" fill="#ee9852"/>
<rect x="827" y="224" width="19" height="5" fill="#efa85c"/>
<rect x="827" y="229" width="19" height="6" fill="#f0b666"/>
<rect x="827" y="235" width="19" height="5" fill="#f1bc6a"/>
<rect x="827" y="240" width="19" height="5" fill="#f2c170"/>
<rect x="827" y="245" width="19" height="5" fill="#f4d685"/>
<rect x="827" y="250" width="19" height="5" fill="#fdfdb6"/>
<rect x="827" y="255" width="19" height="6" fill="#d7e793"/>
<rect x="827" y="261" width="19" height="5" fill="#5cad9a"/>
<rect x="827" y="266" width="19" height="5" fill="#93c98e"/>
<rect x="846" y="177" width="26" height="5" fill="#efb062"/>
<rect x="846" y="182" width="26" height="6" fill="#f0b666"/>
<rect x="846" y="188" width="26" height="10" fill="#f2c170"/>
<rect x="846" y="198" width="26" height="5" fill="#f0b666"/>
<rect x="846" y="203" width="26" height="5" fill="#efac5f"/>
<rect x="846" y="235" width="26" height="10" fill="#c93648"/>
<rect x="846" y="245" width="26" height="5" fill="#e55d3e"/>
<rect x="846" y="250" width="26" height="5" fill="#ed8044"/>
<rect x="846" y="255" width="26" height="6" fill="#ee8a4a"/>
<rect x="846" y="261" width="26" height="5" fill="#f2c676"/>
<rect x="846" y="266" width="26" height="5" fill="#efa85c"/>
<rect x="872" y="146" width="25" height="31" fill="#bedc8d"/>
<rect x="872" y="177" width="25" height="5" fill="#e3ee9a"/>
<rect x="872" y="182" width="25" height="6" fill="#f6e698"/>
<rect x="872" y="188" width="25" height="5" fill="#efac5f"/>
<rect x="872" y="193" width="25" height="5" fill="#ee8a4a"/>
<rect x="872" y="198" width="25" height="5" fill="#ea673e"/>
<rect x="872" y="203" width="25" height="5" fill="#de5240"/>
<rect x="872" y="235" width="25" height="5" fill="#ee9852"/>
<rect x="872" y="240" width="25" height="5" fill="#f3d07e"/>
<rect x="872" y="245" width="25" height="5" fill="#f1bc6a"/>
<rect x="872" y="250" width="25" height="5" fill="#ed8044"/>
<rect x="872" y="255" width="25" height="6" fill="#db4e40"/>
<rect x="872" y="261" width="25" height="10" fill="#be2a4a"/>
<rect x="897" y="146" width="19" height="5" fill="#c7e08c"/>
<rect x="897" y="151" width="19" height="5" fill="#d7e793"/>
<rect x="897" y="156" width="19" height="5" fill="#e8f09e"/>
<rect x="897" y="161" width="19" height="11" fill="#fdfdb6"/>
<rect x="897" y="172" width="19" height="5" fill="#f8eea6"/>
<rect x="897" y="177" width="19" height="5" fill="#f5dc8c"/>
<rect x="897" y="182" width="19" height="6" fill="#f2c170"/>
<rect x="897" y="188" width="19" height="5" fill="#efa85c"/>
<rect x="897" y="193" width="19" height="5" fill="#ee924e"/>
<rect x="897" y="198" width="19" height="5" fill="#ec7a42"/>
<rect x="897" y="203" width="19" height="5" fill="#ea673e"/>
<rect x="897" y="235" width="19" height="5" fill="#ea673e"/>
<rect x="897" y="240" width="19" height="5" fill="#e25840"/>
<rect x="897" y="245" width="19" height="10" fill="#d54642"/>
<rect x="897" y="255" width="19" height="6" fill="#ea673e"/>
<rect x="897" y="261" width="19" height="5" fill="#f2c676"/>
<rect x="897" y="266" width="19" height="5" fill="#f6e192"/>
<rect x="916" y="177" width="19" height="5" fill="#93c98e"/>
<rect x="916" y="182" width="19" height="6" fill="#d3e691"/>
<rect x="916" y="188" width="19" height="5" fill="#fcf9b2"/>
<rect x="916" y="193" width="19" height="5" fill="#f6e698"/>
<rect x="916" y="198" width="19" height="5" fill="#f4d685"/>
<rect x="916" y="203" width="19" height="16" fill="#f2c676"/>
<rect x="916" y="219" width="19" height="5" fill="#f4d685"/>
<rect x="916" y="224" width="19" height="5" fill="#faf5ae"/>
<rect x="916" y="229" width="19" height="6" fill="#e3ee9a"/>
<rect x="916" y="235" width="19" height="15" fill="#cbe28e"/>
<rect x="916" y="250" width="19" height="5" fill="#dbe994"/>
<rect x="916" y="255" width="19" height="6" fill="#ecf3a2"/>
<rect x="916" y="261" width="19" height="5" fill="#fafbb2"/>
<rect x="916" y="266" width="19" height="5" fill="#faf5ae"/>
<rect x="935" y="235" width="19" height="5" fill="#e25840"/>
<rect x="935" y="240" width="19" height="5" fill="#e8623d"/>
<rect x="935" y="245" width="19" height="5" fill="#ed8044"/>
<rect x="935" y="250" width="19" height="11" fill="#ee8a4a"/>
<rect x="935" y="261" width="19" height="5" fill="#f2c170"/>
<rect x="935" y="266" width="19" height="5" fill="#f3d07e"/>
<rect x="954" y="146" width="19" height="5" fill="#ee8a4a"/>
<rect x="954" y="151" width="19" height="5" fill="#ec7a42"/>
<rect x="954" y="156" width="19" height="5" fill="#eb6c3e"/>
<rect x="954" y="161" width="19" height="6" fill="#e8623d"/>
<rect x="954" y="167" width="19" height="5" fill="#e25840"/>
<rect x="954" y="172" width="19" height="5" fill="#e05540"/>
<rect x="954" y="177" width="19" height="16" fill="#db4e40"/>
<rect x="954" y="193" width="19" height="5" fill="#de5240"/>
<rect x="954" y="198" width="19" height="5" fill="#e25840"/>
<rect x="954" y="203" width="19" height="5" fill="#e8623d"/>
<rect x="954" y="235" width="19" height="5" fill="#d84a41"/>
<rect x="954" y="240" width="19" height="5" fill="#c6324a"/>
<rect x="954" y="245" width="19" height="16" fill="#e25840"/>
<rect x="954" y="261" width="19" height="10" fill="#ee8a4a"/>
<rect x="973" y="146" width="20" height="5" fill="#f2c676"/>
<rect x="973" y="151" width="20" height="5" fill="#f0b666"/>
<rect x="973" y="156" width="20" height="5" fill="#efac5f"/>
<rect x="973" y="161" width="20" height="6" fill="#efa359"/>
<rect x="973" y="167" width="20" height="5" fill="#ee9852"/>
<rect x="973" y="172" width="20" height="5" fill="#ee8a4a"/>
<rect x="973" y="177" width="20" height="5" fill="#ec703f"/>
<rect x="973" y="182" width="20" height="6" fill="#e55d3e"/>
<rect x="973" y="188" width="20" height="5" fill="#d84a41"/>
<rect x="973" y="193" width="20" height="15" fill="#d24244"/>
<rect x="973" y="235" width="20" height="5" fill="#ec703f"/>
<rect x="973" y="240" width="20" height="5" fill="#ee8a4a"/>
<rect x="973" y="245" width="20" height="5" fill="#efa359"/>
<rect x="973" y="250" width="20" height="5" fill="#ef9e56"/>
<rect x="973" y="255" width="20" height="6" fill="#ee8a4a"/>
<rect x="973" y="261" width="20" height="5" fill="#e8623d"/>
<rect x="973" y="266" width="20" height="5" fill="#e25840"/>
<rect x="993" y="146" width="19" height="26" fill="#ec703f"/>
<rect x="993" y="172" width="19" height="5" fill="#eb6c3e"/>
<rect x="993" y="177" width="19" height="5" fill="#e8623d"/>
<rect x="993" y="182" width="19" height="6" fill="#e25840"/>
<rect x="993" y="188" width="19" height="5" fill="#db4e40"/>
<rect x="993" y="193" width="19" height="5" fill="#c22e4a"/>
<rect x="993" y="198" width="19" height="5" fill="#9e0446"/>
<rect x="993" y="203" width="19" height="5" fill="#b4227b"/>
<rect x="993" y="208" width="19" height="6" fill="#d74ca0"/>
<rect x="993" y="214" width="19" height="5" fill="#e070b0"/>
<rect x="993" y="219" width="19" height="5" fill="#de98c8"/>
<rect x="993" y="224" width="19" height="5" fill="#c398cc"/>
<rect x="993" y="229" width="19" height="6" fill="#b689c3"/>
<rect x="993" y="235" width="19" height="5" fill="#cc9fd0"/>
<rect x="993" y="240" width="19" height="5" fill="#df84bc"/>
<rect x="993" y="245" width="19" height="5" fill="#da58a5"/>
<rect x="993" y="250" width="19" height="5" fill="#c22e8a"/>
<rect x="993" y="255" width="19" height="6" fill="#a00959"/>
<rect x="993" y="261" width="19" height="5" fill="#be2a4a"/>
<rect x="993" y="266" width="19" height="5" fill="#c6324a"/>
<rect x="1012" y="146" width="19" height="5" fill="#f0f6a6"/>
<rect x="1012" y="151" width="19" height="5" fill="#fdfdb6"/>
<rect x="1012" y="156" width="19" height="5" fill="#f3d07e"/>
<rect x="1012" y="161" width="19" height="6" fill="#efa85c"/>
<rect x="1012" y="167" width="19" height="5" fill="#ee8a4a"/>
<rect x="1012" y="172" width="19" height="5" fill="#e55d3e"/>
<rect x="1012" y="177" width="19" height="5" fill="#ed8044"/>
<rect x="1012" y="182" width="19" height="6" fill="#efa85c"/>
<rect x="1012" y="188" width="19" height="5" fill="#f2c676"/>
<rect x="1012" y="193" width="19" height="5" fill="#f2c170"/>
<rect x="1012" y="198" width="19" height="5" fill="#efa359"/>
<rect x="1012" y="203" width="19" height="11" fill="#ec7a42"/>
<rect x="1012" y="214" width="19" height="5" fill="#efa359"/>
<rect x="1012" y="219" width="19" height="5" fill="#f0b666"/>
<rect x="1012" y="224" width="19" height="5" fill="#ee924e"/>
<rect x="1012" y="229" width="19" height="6" fill="#ea673e"/>
<rect x="1012" y="235" width="19" height="5" fill="#db4e40"/>
<rect x="1012" y="240" width="19" height="5" fill="#cc3a47"/>
<rect x="1012" y="245" width="19" height="21" fill="#c22e4a"/>
<rect x="1012" y="266" width="19" height="5" fill="#c6324a"/>
<rect x="1031" y="146" width="19" height="5" fill="#f0b666"/>
<rect x="1031" y="151" width="19" height="5" fill="#efac5f"/>
<rect x="1031" y="156" width="19" height="5" fill="#ef9e56"/>
<rect x="1031" y="161" width="19" height="6" fill="#ee924e"/>
<rect x="1031" y="167" width="19" height="5" fill="#ee8a4a"/>
<rect x="1031" y="172" width="19" height="5" fill="#ec7440"/>
<rect x="1031" y="177" width="19" height="5" fill="#e8623d"/>
<rect x="1031" y="182" width="19" height="6" fill="#e25840"/>
<rect x="1031" y="188" width="19" height="5" fill="#db4e40"/>
<rect x="1031" y="193" width="19" height="5" fill="#e8623d"/>
<rect x="1031" y="198" width="19" height="5" fill="#ed8044"/>
<rect x="1031" y="203" width="19" height="5" fill="#ee9852"/>
<rect x="1031" y="208" width="19" height="6" fill="#ee8a4a"/>
<rect x="1031" y="214" width="19" height="5" fill="#ec7440"/>
<rect x="1031" y="219" width="19" height="16" fill="#e8623d"/>
<rect x="1031" y="235" width="19" height="5" fill="#ed8044"/>
<rect x="1031" y="240" width="19" height="5" fill="#efa359"/>
<rect x="1031" y="245" width="19" height="5" fill="#efa85c"/>
<rect x="1031" y="250" width="19" height="5" fill="#ed8044"/>
<rect x="1031" y="255" width="19" height="6" fill="#e8623d"/>
<rect x="1031" y="261" width="19" height="5" fill="#ee8a4a"/>
<rect x="1031" y="266" width="19" height="5" fill="#f2c170"/>
<rect x="1050" y="146" width="19" height="5" fill="#d54642"/>
<rect x="1050" y="151" width="19" height="5" fill="#de5240"/>
<rect x="1050" y="156" width="19" height="5" fill="#e55d3e"/>
<rect x="1050" y="161" width="19" height="6" fill="#e8623d"/>
<rect x="1050" y="167" width="19" height="5" fill="#ec703f"/>
<rect x="1050" y="172" width="19" height="21" fill="#ed8044"/>
<rect x="1050" y="193" width="19" height="5" fill="#e8623d"/>
<rect x="1050" y="198" width="19" height="5" fill="#de5240"/>
<rect x="1050" y="203" width="19" height="26" fill="#d54642"/>
<rect x="1050" y="229" width="19" height="6" fill="#cf3e46"/>
<rect x="1050" y="235" width="19" height="5" fill="#d54642"/>
<rect x="1050" y="240" width="19" height="31" fill="#e25840"/>
<rect x="1069" y="146" width="19" height="5" fill="#f2c676"/>
<rect x="1069" y="151" width="19" height="16" fill="#f1bc6a"/>
<rect x="1069" y="167" width="19" height="5" fill="#f0b666"/>
<rect x="1069" y="172" width="19" height="5" fill="#efb062"/>
<rect x="1069" y="177" width="19" height="5" fill="#f0b666"/>
<rect x="1069" y="182" width="19" height="6" fill="#f2c676"/>
<rect x="1069" y="188" width="19" height="5" fill="#f2cb7a"/>
<rect x="1069" y="193" width="19" height="5" fill="#efa85c"/>
<rect x="1069" y="198" width="19" height="5" fill="#ec7440"/>
<rect x="1069" y="203" width="19" height="5" fill="#db4e40"/>
<rect x="1069" y="208" width="19" height="6" fill="#c22e4a"/>
<rect x="1069" y="214" width="19" height="5" fill="#a91047"/>
<rect x="1069" y="219" width="19" height="5" fill="#a8176a"/>
<rect x="1069" y="224" width="19" height="5" fill="#9e0446"/>
<rect x="1069" y="229" width="19" height="6" fill="#b41c48"/>
<rect x="1069" y="235" width="19" height="5" fill="#c22e4a"/>
<rect x="1069" y="240" width="19" height="21" fill="#cc3a47"/>
<rect x="1069" y="261" width="19" height="10" fill="#d54642"/>
<rect x="1088" y="114" width="19" height="6" fill="#dfeb96"/>
<rect x="1088" y="120" width="19" height="5" fill="#f0f6a6"/>
<rect x="1088" y="125" width="19" height="5" fill="#fdfdb6"/>
<rect x="1088" y="130" width="19" height="5" fill="#f7ea9f"/>
<rect x="1088" y="135" width="19" height="5" fill="#f5dc8c"/>
<rect x="1088" y="140" width="19" height="6" fill="#f2c676"/>
<rect x="1088" y="146" width="19" height="5" fill="#f0b666"/>
<rect x="1088" y="151" width="19" height="5" fill="#efa85c"/>
<rect x="1088" y="156" width="19" height="5" fill="#ee9852"/>
<rect x="1088" y="161" width="19" height="6" fill="#ee8a4a"/>
<rect x="1088" y="167" width="19" height="5" fill="#ed8044"/>
<rect x="1088" y="172" width="19" height="5" fill="#ec703f"/>
<rect x="1088" y="177" width="19" height="5" fill="#e8623d"/>
<rect x="1088" y="182" width="19" height="6" fill="#e25840"/>
<rect x="1088" y="188" width="19" height="5" fill="#de5240"/>
<rect x="1088" y="193" width="19" height="5" fill="#d84a41"/>
<rect x="1088" y="198" width="19" height="5" fill="#cf3e46"/>
<rect x="1088" y="203" width="19" height="5" fill="#c6324a"/>
<rect x="1088" y="208" width="19" height="6" fill="#b41c48"/>
<rect x="1088" y="214" width="19" height="5" fill="#9e0446"/>
<rect x="1088" y="219" width="19" height="5" fill="#ac1c72"/>
<rect x="1088" y="224" width="19" height="5" fill="#9e0446"/>
<rect x="1088" y="229" width="19" height="6" fill="#c6324a"/>
<rect x="1088" y="235" width="19" height="5" fill="#de5240"/>
<rect x="1088" y="240" width="19" height="5" fill="#e55d3e"/>
<rect x="1088" y="245" width="19" height="16" fill="#ec703f"/>
<rect x="1088" y="261" width="19" height="5" fill="#e25840"/>
<rect x="1088" y="266" width="19" height="5" fill="#db4e40"/>
<rect x="1107" y="109" width="19" height="47" fill="#ef9c54"/>
<rect x="1107" y="156" width="19" height="21" fill="#ee924e"/>
<rect x="1107" y="177" width="19" height="5" fill="#ee8a4a"/>
<rect x="1107" y="182" width="19" height="6" fill="#ec7a42"/>
<rect x="1107" y="188" width="19" height="5" fill="#ea673e"/>
<rect x="1107" y="193" width="19" height="5" fill="#e25840"/>
<rect x="1107" y="198" width="19" height="5" fill="#db4e40"/>
<rect x="1107" y="203" width="19" height="21" fill="#cc3a47"/>
<rect x="1107" y="240" width="19" height="5" fill="#db4e40"/>
<rect x="1107" y="245" width="19" height="5" fill="#e25840"/>
<rect x="1107" y="250" width="19" height="5" fill="#e8623d"/>
<rect x="1107" y="255" width="19" height="6" fill="#ea673e"/>
<rect x="1107" y="261" width="19" height="10" fill="#ec7a42"/>
<rect x="1126" y="177" width="19" height="5" fill="#c2de8c"/>
<rect x="1126" y="182" width="19" height="6" fill="#f3f8aa"/>
<rect x="1126" y="188" width="19" height="5" fill="#f8eea6"/>
<rect x="1126" y="193" width="19" height="5" fill="#f0b666"/>
<rect x="1126" y="198" width="19" height="5" fill="#ee8a4a"/>
<rect x="1126" y="203" width="19" height="5" fill="#e8623d"/>
<rect x="1126" y="208" width="19" height="6" fill="#db4e40"/>
<rect x="1126" y="214" width="19" height="5" fill="#c22e4a"/>
<rect x="1126" y="219" width="19" height="5" fill="#a91047"/>
<rect x="1126" y="224" width="19" height="5" fill="#ae1648"/>
<rect x="1126" y="229" width="19" height="6" fill="#c6324a"/>
<rect x="1126" y="235" width="19" height="5" fill="#d54642"/>
<rect x="1126" y="240" width="19" height="5" fill="#e8623d"/>
<rect x="1126" y="245" width="19" height="16" fill="#ec7a42"/>
<rect x="1126" y="261" width="19" height="10" fill="#ee8a4a"/>
<rect x="1145" y="109" width="19" height="11" fill="#ec7a42"/>
<rect x="1145" y="120" width="19" height="20" fill="#ec703f"/>
<rect x="1145" y="140" width="19" height="37" fill="#e8623d"/>
<rect x="1145" y="177" width="19" height="11" fill="#ea673e"/>
<rect x="1145" y="188" width="19" height="5" fill="#ec703f"/>
<rect x="1145" y="193" width="19" height="5" fill="#e8623d"/>
<rect x="1145" y="198" width="19" height="5" fill="#db4e40"/>
<rect x="1145" y="203" width="19" height="5" fill="#c93648"/>
<rect x="1145" y="208" width="19" height="6" fill="#b41c48"/>
<rect x="1145" y="214" width="19" height="5" fill="#a40a46"/>
<rect x="1145" y="219" width="19" height="5" fill="#a61567"/>
<rect x="1145" y="224" width="19" height="5" fill="#b41c48"/>
<rect x="1145" y="229" width="19" height="6" fill="#de5240"/>
<rect x="1145" y="235" width="19" height="5" fill="#ed8044"/>
<rect x="1145" y="240" width="19" height="10" fill="#ee8a4a"/>
<rect x="1145" y="250" width="19" height="5" fill="#ee9852"/>
<rect x="1145" y="255" width="19" height="6" fill="#efa85c"/>
<rect x="1145" y="261" width="19" height="5" fill="#f2c676"/>
<rect x="1145" y="266" width="19" height="5" fill="#f3d07e"/>
<rect x="1164" y="109" width="19" height="5" fill="#f0b666"/>
<rect x="1164" y="114" width="19" height="6" fill="#f3d07e"/>
<rect x="1164" y="120" width="19" height="5" fill="#f8eea6"/>
<rect x="1164" y="125" width="19" height="5" fill="#f3f8aa"/>
<rect x="1164" y="130" width="19" height="5" fill="#d7e793"/>
<rect x="1164" y="135" width="19" height="5" fill="#bada8e"/>
<rect x="1164" y="140" width="19" height="6" fill="#93c98e"/>
<rect x="1164" y="146" width="19" height="5" fill="#8cc68f"/>
<rect x="1164" y="151" width="19" height="5" fill="#cbe28e"/>
<rect x="1164" y="156" width="19" height="5" fill="#f3f8aa"/>
<rect x="1164" y="161" width="19" height="6" fill="#f5dc8c"/>
<rect x="1164" y="167" width="19" height="5" fill="#efa85c"/>
<rect x="1164" y="172" width="19" height="5" fill="#ec7a42"/>
<rect x="1164" y="177" width="19" height="5" fill="#ec703f"/>
<rect x="1164" y="182" width="19" height="6" fill="#ec7440"/>
<rect x="1164" y="188" width="19" height="5" fill="#ec7a42"/>
<rect x="1164" y="193" width="19" height="5" fill="#ea673e"/>
<rect x="1164" y="198" width="19" height="5" fill="#de5240"/>
<rect x="1164" y="203" width="19" height="5" fill="#cc3a47"/>
<rect x="1164" y="208" width="19" height="6" fill="#b41c48"/>
<rect x="1164" y="214" width="19" height="5" fill="#9e0446"/>
<rect x="1164" y="219" width="19" height="5" fill="#c22e8a"/>
<rect x="1164" y="224" width="19" height="5" fill="#9e0446"/>
<rect x="1164" y="229" width="19" height="6" fill="#cc3a47"/>
<rect x="1164" y="235" width="19" height="5" fill="#e25840"/>
<rect x="1164" y="240" width="19" height="10" fill="#ec703f"/>
<rect x="1164" y="250" width="19" height="11" fill="#ed8044"/>
<rect x="1164" y="261" width="19" height="10" fill="#ee8a4a"/>
<rect x="1183" y="114" width="19" height="16" fill="#d7e793"/>
<rect x="1183" y="130" width="19" height="5" fill="#e3ee9a"/>
<rect x="1183" y="135" width="19" height="5" fill="#f0f6a6"/>
<rect x="1183" y="140" width="19" height="11" fill="#fdfdb6"/>
<rect x="1183" y="151" width="19" height="5" fill="#f8eea6"/>
<rect x="1183" y="156" width="19" height="5" fill="#f5dc8c"/>
<rect x="1183" y="161" width="19" height="6" fill="#f2c676"/>
<rect x="1183" y="167" width="19" height="5" fill="#f0b666"/>
<rect x="1183" y="172" width="19" height="5" fill="#efa359"/>
<rect x="1183" y="177" width="19" height="5" fill="#ee8a4a"/>
<rect x="1183" y="182" width="19" height="6" fill="#ec703f"/>
<rect x="1183" y="188" width="19" height="5" fill="#e8623d"/>
<rect x="1183" y="193" width="19" height="5" fill="#e25840"/>
<rect x="1183" y="198" width="19" height="5" fill="#de5240"/>
<rect x="1183" y="203" width="19" height="5" fill="#d54642"/>
<rect x="1183" y="208" width="19" height="6" fill="#c6324a"/>
<rect x="1183" y="214" width="19" height="5" fill="#ae1648"/>
<rect x="1183" y="219" width="19" height="5" fill="#9e0446"/>
<rect x="1183" y="224" width="19" height="5" fill="#b41c48"/>
<rect x="1183" y="229" width="19" height="6" fill="#d54642"/>
<rect x="1183" y="235" width="19" height="5" fill="#e25840"/>
<rect x="1183" y="240" width="19" height="10" fill="#e8623d"/>
<rect x="1183" y="250" width="19" height="11" fill="#ec703f"/>
<rect x="1183" y="261" width="19" height="10" fill="#ec7a42"/>
</g>
<rect x="751.5" y="109.5" width="451.0" height="168.0" fill="none" stroke="#000" stroke-width="1.11"/>
<text x="976.5" y="102.0" font-size="16.67" text-anchor="middle">station = S4</text>
<path d="M751.5 117.5h-4.9" stroke="#000" stroke-width="1.11"/>
<text x="741.5" y="122.5" font-size="13.89" text-anchor="end">8000</text>
<path d="M751.5 159.5h-4.9" stroke="#000" stroke-width="1.11"/>
<text x="741.5" y="164.3" font-size="13.89" text-anchor="end">6000</text>
<path d="M751.5 201.5h-4.9" stroke="#000" stroke-width="1.11"/>
<text x="741.5" y="206.2" font-size="13.89" text-anchor="end">4000</text>
<path d="M751.5 243.5h-4.9" stroke="#000" stroke-width="1.11"/>
<text x="741.5" y="248.0" font-size="13.89" text-anchor="end">2000</text>
<path d="M755.5 277.5v4.9" stroke="#000" stroke-width="1.11"/>
<text x="755.0" y="297.8" font-size="13.89" text-anchor="middle" letter-spacing="-0.2">00:00</text>
<path d="M812.5 277.5v4.9" stroke="#000" stroke-width="1.11"/>
<text x="812.2" y="297.8" font-size="13.89" text-anchor="middle" letter-spacing="-0.2">00:30</text>
<path d="M869.5 277.5v4.9" stroke="#000" stroke-width="1.11"/>
<text x="869.3" y="297.8" font-size="13.89" text-anchor="middle" letter-spacing="-0.2">01:00</text>
<path d="M926.5 277.5v4.9" stroke="#000" stroke-width="1.11"/>
<text x="926.4" y="297.8" font-size="13.89" text-anchor="middle" letter-spacing="-0.2">01:30</text>
<path d="M983.5 277.5v4.9" stroke="#000" stroke-width="1.11"/>
<text x="983.6" y="297.8" font-size="13.89" text-anchor="middle" letter-spacing="-0.2">02:00</text>
<path d="M1040.5 277.5v4.9" stroke="#000" stroke-width="1.11"/>
<text x="1040.7" y="297.8" font-size="13.89" text-anchor="middle" letter-spacing="-0.2">02:30</text>
<path d="M1097.5 277.5v4.9" stroke="#000" stroke-width="1.11"/>
<text x="1097.8" y="297.8" font-size="13.89" text-anchor="middle" letter-spacing="-0.2">03:00</text>
<path d="M1154.5 277.5v4.9" stroke="#000" stroke-width="1.11"/>
<text x="1155.0" y="297.8" font-size="13.89" text-anchor="middle" letter-spacing="-0.2">03:30</text>
<text x="1202.5" y="316.0" font-size="13.89" text-anchor="end">2025-Mar-05</text>
<text x="976.2" y="317.73" font-size="13.89" text-anchor="middle" xml:space="preserve">Start time of individual radar</text>
<text x="976.2" y="333.73" font-size="13.89" text-anchor="middle" xml:space="preserve">scan volumes  from which</text>
<text x="976.2" y="349.7" font-size="13.89" text-anchor="middle" xml:space="preserve">column are extracted  [UTC</text>
<text x="976.2" y="365.5" font-size="13.89" text-anchor="middle" xml:space="preserve">Time]</text>
<text transform="translate(696.2 194.9) rotate(-90)" font-size="13.89" text-anchor="middle">Height of Radar Beam [m]</text>
<rect x="1230.5" y="109.5" width="9.0" height="168.0" fill="url(#cb)" stroke="#000" stroke-width="1.11"/>
<path d="M1239.5 259.5h4.9" stroke="#000" stroke-width="1.11"/>
<text x="1248.3" y="265.2" font-size="13.89">−<tspan dx="-0.9">20</tspan></text>
<path d="M1239.5 224.5h4.9" stroke="#000" stroke-width="1.11"/>
<text x="1248.5" y="230.0" font-size="13.89">0</text>
<path d="M1239.5 188.5h4.9" stroke="#000" stroke-width="1.11"/>
<text x="1248.5" y="194.8" font-size="13.89">20</text>
<path d="M1239.5 153.5h4.9" stroke="#000" stroke-width="1.11"/>
<text x="1248.5" y="159.6" font-size="13.89">40</text>
<path d="M1239.5 118.5h4.9" stroke="#000" stroke-width="1.11"/>
<text x="1248.5" y="124.3" font-size="13.89">60</text>
<text transform="translate(1292.4 195.0) rotate(-90)" font-size="13.89" text-anchor="middle">Corrected reflectivity [dBZ]</text>
</g>
<g>
<g shape-rendering="crispEdges">
<rect x="75" y="531" width="19" height="5" fill="#ec703f"/>
<rect x="75" y="536" width="19" height="5" fill="#e55d3e"/>
<rect x="75" y="541" width="19" height="5" fill="#d84a41"/>
<rect x="75" y="546" width="19" height="6" fill="#c22e4a"/>
<rect x="75" y="552" width="19" height="5" fill="#a40a46"/>
<rect x="75" y="557" width="19" height="5" fill="#a41262"/>
<rect x="75" y="562" width="19" height="5" fill="#9c0050"/>
<rect x="75" y="567" width="19" height="6" fill="#9e0446"/>
<rect x="75" y="573" width="19" height="5" fill="#ae1648"/>
<rect x="94" y="567" width="19" height="6" fill="#f8eea6"/>
<rect x="94" y="573" width="19" height="5" fill="#f5dc8c"/>
<rect x="132" y="567" width="19" height="6" fill="#499fa6"/>
<rect x="151" y="410" width="19" height="6" fill="#dfeb96"/>
<rect x="151" y="416" width="19" height="5" fill="#f0f6a6"/>
<rect x="151" y="421" width="19" height="5" fill="#fdfdb6"/>
<rect x="151" y="426" width="19" height="5" fill="#f7e89c"/>
<rect x="151" y="489" width="19" height="16" fill="#ed8044"/>
<rect x="151" y="505" width="19" height="15" fill="#ec7a42"/>
<rect x="151" y="520" width="19" height="6" fill="#ef9e56"/>
<rect x="151" y="526" width="19" height="5" fill="#f3d07e"/>
<rect x="151" y="531" width="19" height="10" fill="#f6e698"/>
<rect x="151" y="541" width="19" height="5" fill="#f0f6a6"/>
<rect x="151" y="546" width="19" height="6" fill="#93c98e"/>
<rect x="151" y="552" width="19" height="5" fill="#6165b5"/>
<rect x="170" y="510" width="26" height="5" fill="#f0b666"/>
<rect x="170" y="515" width="26" height="11" fill="#ee8a4a"/>
<rect x="170" y="526" width="26" height="5" fill="#efa359"/>
<rect x="170" y="531" width="26" height="5" fill="#f0b666"/>
<rect x="170" y="536" width="26" height="5" fill="#f1bc6a"/>
<rect x="170" y="541" width="26" height="5" fill="#f2c676"/>
<rect x="170" y="546" width="26" height="6" fill="#f4d685"/>
<rect x="170" y="552" width="26" height="5" fill="#f8eea6"/>
<rect x="170" y="557" width="26" height="5" fill="#f3d07e"/>
<rect x="170" y="562" width="26" height="5" fill="#e8623d"/>
<rect x="170" y="567" width="26" height="6" fill="#e05540"/>
<rect x="170" y="573" width="26" height="5" fill="#de5240"/>
<rect x="196" y="410" width="25" height="6" fill="#f5dc8c"/>
<rect x="196" y="416" width="25" height="5" fill="#f2c676"/>
<rect x="196" y="421" width="25" height="5" fill="#f0b666"/>
<rect x="196" y="426" width="25" height="5" fill="#efa85c"/>
<rect x="196" y="431" width="25" height="6" fill="#ee8a4a"/>
<rect x="196" y="489" width="25" height="21" fill="#d24244"/>
<rect x="196" y="510" width="25" height="5" fill="#c6324a"/>
<rect x="196" y="515" width="25" height="5" fill="#b41c48"/>
<rect x="196" y="520" width="25" height="6" fill="#de5240"/>
<rect x="196" y="526" width="25" height="5" fill="#efa85c"/>
<rect x="196" y="531" width="25" height="5" fill="#f6e192"/>
<rect x="196" y="536" width="25" height="5" fill="#f9f3ac"/>
<rect x="196" y="541" width="25" height="16" fill="#fdfdb6"/>
<rect x="196" y="557" width="25" height="5" fill="#f2c676"/>
<rect x="196" y="562" width="25" height="5" fill="#f1bc6a"/>
<rect x="196" y="567" width="25" height="6" fill="#efa85c"/>
<rect x="196" y="573" width="25" height="5" fill="#ee9852"/>
<rect x="221" y="489" width="19" height="5" fill="#f5de8e"/>
<rect x="221" y="494" width="19" height="5" fill="#f0b666"/>
<rect x="221" y="499" width="19" height="6" fill="#ed8044"/>
<rect x="221" y="505" width="19" height="5" fill="#de5240"/>
<rect x="221" y="510" width="19" height="5" fill="#c6324a"/>
<rect x="221" y="515" width="19" height="5" fill="#a91047"/>
<rect x="221" y="520" width="19" height="6" fill="#b62048"/>
<rect x="221" y="526" width="19" height="5" fill="#e05540"/>
<rect x="221" y="531" width="19" height="5" fill="#ec7440"/>
<rect x="221" y="536" width="19" height="21" fill="#ee8a4a"/>
<rect x="221" y="557" width="19" height="16" fill="#efa359"/>
<rect x="221" y="573" width="19" height="5" fill="#f5dc8c"/>
<rect x="240" y="410" width="19" height="6" fill="#f6e192"/>
<rect x="240" y="416" width="19" height="5" fill="#f5dc8c"/>
<rect x="240" y="421" width="19" height="5" fill="#f2cb7a"/>
<rect x="240" y="426" width="19" height="5" fill="#f1bc6a"/>
<rect x="240" y="489" width="19" height="21" fill="#cf3e46"/>
<rect x="240" y="510" width="19" height="5" fill="#c6324a"/>
<rect x="240" y="515" width="19" height="5" fill="#bc264a"/>
<rect x="240" y="520" width="19" height="6" fill="#db4e40"/>
<rect x="240" y="526" width="19" height="5" fill="#ee8a4a"/>
<rect x="240" y="531" width="19" height="10" fill="#efa359"/>
<rect x="240" y="541" width="19" height="5" fill="#f0b666"/>
<rect x="240" y="546" width="19" height="6" fill="#f5dc8c"/>
<rect x="240" y="552" width="19" height="5" fill="#f2c676"/>
<rect x="240" y="557" width="19" height="5" fill="#efa359"/>
<rect x="240" y="562" width="19" height="11" fill="#efac5f"/>
<rect x="240" y="573" width="19" height="5" fill="#efa359"/>
<rect x="259" y="531" width="19" height="5" fill="#e8623d"/>
<rect x="259" y="536" width="19" height="5" fill="#ed8044"/>
<rect x="259" y="541" width="19" height="5" fill="#ee9852"/>
<rect x="259" y="546" width="19" height="11" fill="#efa359"/>
<rect x="259" y="557" width="19" height="5" fill="#f0b666"/>
<rect x="259" y="562" width="19" height="5" fill="#f6e698"/>
<rect x="259" y="567" width="19" height="11" fill="#ecf3a2"/>
<rect x="278" y="410" width="19" height="6" fill="#ecf3a2"/>
<rect x="278" y="416" width="19" height="5" fill="#fdfdb6"/>
<rect x="278" y="421" width="19" height="5" fill="#faf5ae"/>
<rect x="278" y="426" width="19" height="5" fill="#f7e89c"/>
<rect x="278" y="520" width="19" height="6" fill="#f1bc6a"/>
<rect x="278" y="526" width="19" height="5" fill="#efa359"/>
<rect x="278" y="531" width="19" height="26" fill="#ee904d"/>
<rect x="278" y="557" width="19" height="5" fill="#ee8a4a"/>
<rect x="278" y="562" width="19" height="11" fill="#efa359"/>
<rect x="278" y="573" width="19" height="5" fill="#efac5f"/>
<rect x="297" y="410" width="19" height="6" fill="#f1bc6a"/>
<rect x="297" y="416" width="19" height="5" fill="#ef9e56"/>
<rect x="297" y="421" width="19" height="5" fill="#ed8044"/>
<rect x="297" y="426" width="19" height="5" fill="#e55d3e"/>
<rect x="297" y="489" width="19" height="5" fill="#c6324a"/>
<rect x="297" y="494" width="19" height="5" fill="#be2a4a"/>
<rect x="297" y="499" width="19" height="6" fill="#b62048"/>
<rect x="297" y="505" width="19" height="5" fill="#ae1648"/>
<rect x="297" y="510" width="19" height="5" fill="#be2a4a"/>
<rect x="297" y="515" width="19" height="5" fill="#c93648"/>
<rect x="297" y="520" width="19" height="6" fill="#cc3a47"/>
<rect x="297" y="526" width="19" height="5" fill="#d24244"/>
<rect x="297" y="531" width="19" height="5" fill="#de5240"/>
<rect x="297" y="536" width="19" height="5" fill="#ea673e"/>
<rect x="297" y="541" width="19" height="5" fill="#ed8044"/>
<rect x="297" y="546" width="19" height="6" fill="#ee8a4a"/>
<rect x="297" y="552" width="19" height="5" fill="#efa85c"/>
<rect x="297" y="557" width="19" height="5" fill="#f1bc6a"/>
<rect x="297" y="562" width="19" height="11" fill="#efa359"/>
<rect x="297" y="573" width="19" height="5" fill="#efa85c"/>
<rect x="316" y="410" width="19" height="6" fill="#f2cb7a"/>
<rect x="316" y="416" width="19" height="5" fill="#f1bc6a"/>
<rect x="316" y="421" width="19" height="5" fill="#efa85c"/>
<rect x="316" y="426" width="19" height="5" fill="#ee924e"/>
<rect x="316" y="489" width="19" height="5" fill="#ec703f"/>
<rect x="316" y="494" width="19" height="5" fill="#e8623d"/>
<rect x="316" y="499" width="19" height="6" fill="#e25840"/>
<rect x="316" y="505" width="19" height="5" fill="#db4e40"/>
<rect x="316" y="510" width="19" height="5" fill="#c6324a"/>
<rect x="316" y="515" width="19" height="5" fill="#ae1648"/>
<rect x="316" y="520" width="19" height="6" fill="#a20d5d"/>
<rect x="316" y="526" width="19" height="5" fill="#ce3a94"/>
<rect x="316" y="531" width="19" height="10" fill="#dd64aa"/>
<rect x="316" y="541" width="19" height="5" fill="#c02c87"/>
<rect x="316" y="546" width="19" height="6" fill="#c22e4a"/>
<rect x="316" y="552" width="19" height="5" fill="#e8623d"/>
<rect x="316" y="557" width="19" height="5" fill="#ee8a4a"/>
<rect x="316" y="562" width="19" height="5" fill="#ed8044"/>
<rect x="316" y="567" width="19" height="6" fill="#e55d3e"/>
<rect x="316" y="573" width="19" height="5" fill="#ae1648"/>
<rect x="335" y="410" width="20" height="6" fill="#f0f6a6"/>
<rect x="335" y="416" width="20" height="5" fill="#fafbb2"/>
<rect x="335" y="421" width="20" height="5" fill="#f6e698"/>
<rect x="335" y="426" width="20" height="5" fill="#f3d07e"/>
<rect x="335" y="489" width="20" height="5" fill="#cc3a47"/>
<rect x="335" y="494" width="20" height="5" fill="#c6324a"/>
<rect x="335" y="499" width="20" height="6" fill="#c22e4a"/>
<rect x="335" y="505" width="20" height="5" fill="#bc264a"/>
<rect x="335" y="510" width="20" height="5" fill="#c6324a"/>
<rect x="335" y="515" width="20" height="5" fill="#d24244"/>
<rect x="335" y="520" width="20" height="6" fill="#cc3a47"/>
<rect x="335" y="526" width="20" height="5" fill="#b62048"/>
<rect x="335" y="531" width="20" height="5" fill="#b41c48"/>
<rect x="335" y="536" width="20" height="5" fill="#be2a4a"/>
<rect x="335" y="541" width="20" height="5" fill="#c22e4a"/>
<rect x="335" y="546" width="20" height="11" fill="#be2a4a"/>
<rect x="335" y="557" width="20" height="5" fill="#d54642"/>
<rect x="335" y="562" width="20" height="5" fill="#ec7440"/>
<rect x="335" y="567" width="20" height="11" fill="#ee8a4a"/>
<rect x="355" y="410" width="19" height="6" fill="#f0b666"/>
<rect x="355" y="416" width="19" height="5" fill="#efa359"/>
<rect x="355" y="421" width="19" height="5" fill="#ee8a4a"/>
<rect x="355" y="426" width="19" height="5" fill="#ec7440"/>
<rect x="355" y="489" width="19" height="5" fill="#e55d3e"/>
<rect x="355" y="494" width="19" height="5" fill="#e8623d"/>
<rect x="355" y="499" width="19" height="11" fill="#eb6c3e"/>
<rect x="355" y="510" width="19" height="5" fill="#e8623d"/>
<rect x="355" y="515" width="19" height="5" fill="#e55d3e"/>
<rect x="355" y="520" width="19" height="6" fill="#e8623d"/>
<rect x="355" y="526" width="19" height="10" fill="#eb6c3e"/>
<rect x="355" y="536" width="19" height="5" fill="#e25840"/>
<rect x="355" y="541" width="19" height="5" fill="#de5240"/>
<rect x="355" y="546" width="19" height="6" fill="#e8623d"/>
<rect x="355" y="552" width="19" height="5" fill="#db4e40"/>
<rect x="355" y="557" width="19" height="5" fill="#d54642"/>
<rect x="355" y="562" width="19" height="11" fill="#e8623d"/>
<rect x="355" y="573" width="19" height="5" fill="#ec7a42"/>
<rect x="374" y="489" width="18" height="31" fill="#d24244"/>
<rect x="374" y="552" width="18" height="5" fill="#e8623d"/>
<rect x="374" y="557" width="18" height="5" fill="#ec703f"/>
<rect x="374" y="562" width="18" height="5" fill="#ec7a42"/>
<rect x="374" y="567" width="18" height="11" fill="#e8623d"/>
<rect x="392" y="410" width="20" height="6" fill="#faf5ae"/>
<rect x="392" y="416" width="20" height="5" fill="#f5de8e"/>
<rect x="392" y="421" width="20" height="5" fill="#f3d07e"/>
<rect x="392" y="426" width="20" height="5" fill="#f1bc6a"/>
<rect x="392" y="489" width="20" height="5" fill="#efa85c"/>
<rect x="392" y="494" width="20" height="5" fill="#ee8a4a"/>
<rect x="392" y="499" width="20" height="6" fill="#e8623d"/>
<rect x="392" y="505" width="20" height="5" fill="#db4e40"/>
<rect x="392" y="510" width="20" height="5" fill="#c22e4a"/>
<rect x="392" y="515" width="20" height="5" fill="#a91047"/>
<rect x="392" y="541" width="20" height="11" fill="#b41c48"/>
<rect x="392" y="552" width="20" height="5" fill="#b62048"/>
<rect x="392" y="557" width="20" height="5" fill="#cc3a47"/>
<rect x="392" y="562" width="20" height="5" fill="#e25840"/>
<rect x="392" y="567" width="20" height="11" fill="#ec703f"/>
<rect x="412" y="410" width="19" height="6" fill="#f5de8e"/>
<rect x="412" y="416" width="19" height="5" fill="#f3d07e"/>
<rect x="412" y="421" width="19" height="5" fill="#f1bc6a"/>
<rect x="412" y="426" width="19" height="5" fill="#efa85c"/>
<rect x="412" y="431" width="19" height="11" fill="#ee8a4a"/>
<rect x="412" y="442" width="19" height="5" fill="#ed8044"/>
<rect x="412" y="447" width="19" height="5" fill="#ec7440"/>
<rect x="412" y="452" width="19" height="37" fill="#eb6c3e"/>
<rect x="412" y="489" width="19" height="5" fill="#e8623d"/>
<rect x="412" y="494" width="19" height="5" fill="#e25840"/>
<rect x="412" y="499" width="19" height="6" fill="#de5240"/>
<rect x="412" y="505" width="19" height="15" fill="#d84a41"/>
<rect x="412" y="541" width="19" height="5" fill="#db4e40"/>
<rect x="412" y="546" width="19" height="11" fill="#e05540"/>
<rect x="412" y="557" width="19" height="5" fill="#db4e40"/>
<rect x="412" y="562" width="19" height="16" fill="#d54642"/>
<rect x="431" y="431" width="19" height="6" fill="#93c98e"/>
<rect x="431" y="437" width="19" height="5" fill="#bada8e"/>
<rect x="431" y="442" width="19" height="5" fill="#dbe994"/>
<rect x="431" y="447" width="19" height="5" fill="#f0f6a6"/>
<rect x="431" y="452" width="19" height="6" fill="#faf5ae"/>
<rect x="431" y="458" width="19" height="5" fill="#f5de8e"/>
<rect x="431" y="463" width="19" height="5" fill="#f2c676"/>
<rect x="431" y="468" width="19" height="5" fill="#f0b666"/>
<rect x="431" y="473" width="19" height="5" fill="#efa359"/>
<rect x="431" y="478" width="19" height="6" fill="#ee8a4a"/>
<rect x="431" y="484" width="19" height="5" fill="#ec7440"/>
<rect x="431" y="489" width="19" height="5" fill="#e8623d"/>
<rect x="431" y="494" width="19" height="5" fill="#e25840"/>
<rect x="431" y="499" width="19" height="6" fill="#de5240"/>
<rect x="431" y="505" width="19" height="10" fill="#db4e40"/>
<rect x="431" y="515" width="19" height="5" fill="#d54642"/>
<rect x="431" y="520" width="19" height="6" fill="#c6324a"/>
<rect x="431" y="526" width="19" height="5" fill="#a40a46"/>
<rect x="431" y="531" width="19" height="5" fill="#b62048"/>
<rect x="431" y="536" width="19" height="5" fill="#e25840"/>
<rect x="431" y="541" width="19" height="5" fill="#ec7a42"/>
<rect x="431" y="546" width="19" height="11" fill="#e8623d"/>
<rect x="431" y="557" width="19" height="21" fill="#ec703f"/>
<rect x="450" y="431" width="19" height="6" fill="#c9e18d"/>
<rect x="450" y="437" width="19" height="5" fill="#e8f09e"/>
<rect x="450" y="442" width="19" height="5" fill="#fcf9b2"/>
<rect x="450" y="447" width="19" height="5" fill="#f3d07e"/>
<rect x="450" y="452" width="19" height="6" fill="#efa85c"/>
<rect x="450" y="458" width="19" height="5" fill="#ed8044"/>
<rect x="450" y="463" width="19" height="15" fill="#e8623d"/>
<rect x="450" y="478" width="19" height="16" fill="#e45b3f"/>
<rect x="450" y="494" width="19" height="5" fill="#e05540"/>
<rect x="450" y="499" width="19" height="6" fill="#db4e40"/>
<rect x="450" y="505" width="19" height="5" fill="#d54642"/>
<rect x="450" y="510" width="19" height="5" fill="#cc3a47"/>
<rect x="450" y="515" width="19" height="5" fill="#c6324a"/>
<rect x="450" y="541" width="19" height="16" fill="#de5240"/>
<rect x="450" y="557" width="19" height="21" fill="#e8623d"/>
<rect x="469" y="410" width="19" height="48" fill="#efa359"/>
<rect x="469" y="458" width="19" height="31" fill="#efaa5d"/>
<rect x="469" y="489" width="19" height="5" fill="#ee924e"/>
<rect x="469" y="494" width="19" height="5" fill="#eb6c3e"/>
<rect x="469" y="499" width="19" height="6" fill="#e25840"/>
<rect x="469" y="505" width="19" height="15" fill="#cc3a47"/>
<rect x="469" y="557" width="19" height="21" fill="#de5240"/>
<rect x="488" y="431" width="19" height="6" fill="#fcfbb4"/>
<rect x="488" y="437" width="19" height="5" fill="#f6e698"/>
<rect x="488" y="442" width="19" height="5" fill="#f3d07e"/>
<rect x="488" y="447" width="19" height="5" fill="#f0b666"/>
<rect x="488" y="452" width="19" height="6" fill="#efa359"/>
<rect x="488" y="458" width="19" height="5" fill="#ee8a4a"/>
<rect x="488" y="463" width="19" height="5" fill="#ec703f"/>
<rect x="488" y="468" width="19" height="10" fill="#e8623d"/>
<rect x="488" y="478" width="19" height="11" fill="#e25840"/>
<rect x="488" y="489" width="19" height="5" fill="#db4e40"/>
<rect x="488" y="494" width="19" height="5" fill="#d24244"/>
<rect x="488" y="499" width="19" height="6" fill="#cc3a47"/>
<rect x="488" y="505" width="19" height="10" fill="#c6324a"/>
<rect x="488" y="515" width="19" height="5" fill="#d54642"/>
<rect x="488" y="520" width="19" height="6" fill="#e25840"/>
<rect x="488" y="526" width="19" height="5" fill="#ec7440"/>
<rect x="488" y="531" width="19" height="5" fill="#ee8a4a"/>
<rect x="488" y="536" width="19" height="5" fill="#ee924e"/>
<rect x="488" y="541" width="19" height="5" fill="#efa85c"/>
<rect x="488" y="546" width="19" height="6" fill="#f3d07e"/>
<rect x="488" y="552" width="19" height="5" fill="#faf5ae"/>
<rect x="488" y="567" width="19" height="6" fill="#e8f09e"/>
<rect x="488" y="573" width="19" height="5" fill="#bada8e"/>
<rect x="507" y="410" width="19" height="6" fill="#f2c676"/>
<rect x="507" y="416" width="19" height="5" fill="#efa85c"/>
<rect x="507" y="421" width="19" height="5" fill="#ee8a4a"/>
<rect x="507" y="426" width="19" height="5" fill="#ec703f"/>
<rect x="507" y="431" width="19" height="6" fill="#e8623d"/>
<rect x="507" y="437" width="19" height="5" fill="#e25840"/>
<rect x="507" y="442" width="19" height="16" fill="#de5240"/>
<rect x="507" y="458" width="19" height="31" fill="#d44443"/>
<rect x="507" y="489" width="19" height="5" fill="#cf3e46"/>
<rect x="507" y="494" width="19" height="11" fill="#c93648"/>
<rect x="507" y="505" width="19" height="10" fill="#c6324a"/>
<rect x="507" y="515" width="19" height="5" fill="#d54642"/>
<rect x="507" y="520" width="19" height="6" fill="#e25840"/>
<rect x="507" y="526" width="19" height="5" fill="#ec7a42"/>
<rect x="507" y="531" width="19" height="5" fill="#efa359"/>
<rect x="507" y="536" width="19" height="5" fill="#f5de8e"/>
<rect x="507" y="541" width="19" height="5" fill="#fafbb2"/>
<rect x="507" y="546" width="19" height="6" fill="#ddea95"/>
<rect x="507" y="552" width="19" height="5" fill="#72b994"/>
<rect x="507" y="567" width="19" height="6" fill="#499fa6"/>
<rect x="507" y="573" width="19" height="5" fill="#93c98e"/>
</g>
<rect x="75.5" y="410.5" width="451.0" height="168.0" fill="none" stroke="#000" stroke-width="1.11"/>
<text x="300.1" y="402.7" font-size="16.67" text-anchor="middle">station = S20</text>
<path d="M75.5 418.5h-4.9" stroke="#000" stroke-width="1.11"/>
<text x="65.2" y="423.9" font-size="13.89" text-anchor="end">8000</text>
<path d="M75.5 460.5h-4.9" stroke="#000" stroke-width="1.11"/>
<text x="65.2" y="465.7" font-size="13.89" text-anchor="end">6000</text>
<path d="M75.5 502.5h-4.9" stroke="#000" stroke-width="1.11"/>
<text x="65.2" y="507.6" font-size="13.89" text-anchor="end">4000</text>
<path d="M75.5 544.5h-4.9" stroke="#000" stroke-width="1.11"/>
<text x="65.2" y="549.4" font-size="13.89" text-anchor="end">2000</text>
<path d="M78.5 578.5v4.9" stroke="#000" stroke-width="1.11"/>
<text x="79.2" y="598.8" font-size="13.89" text-anchor="middle" letter-spacing="-0.2">00:00</text>
<path d="M135.5 578.5v4.9" stroke="#000" stroke-width="1.11"/>
<text x="136.3" y="598.8" font-size="13.89" text-anchor="middle" letter-spacing="-0.2">00:30</text>
<path d="M192.5 578.5v4.9" stroke="#000" stroke-width="1.11"/>
<text x="193.5" y="598.8" font-size="13.89" text-anchor="middle" letter-spacing="-0.2">01:00</text>
<path d="M250.5 578.5v4.9" stroke="#000" stroke-width="1.11"/>
<text x="250.6" y="598.8" font-size="13.89" text-anchor="middle" letter-spacing="-0.2">01:30</text>
<path d="M307.5 578.5v4.9" stroke="#000" stroke-width="1.11"/>
<text x="307.7" y="598.8" font-size="13.89" text-anchor="middle" letter-spacing="-0.2">02:00</text>
<path d="M364.5 578.5v4.9" stroke="#000" stroke-width="1.11"/>
<text x="364.9" y="598.8" font-size="13.89" text-anchor="middle" letter-spacing="-0.2">02:30</text>
<path d="M421.5 578.5v4.9" stroke="#000" stroke-width="1.11"/>
<text x="422.0" y="598.8" font-size="13.89" text-anchor="middle" letter-spacing="-0.2">03:00</text>
<path d="M478.5 578.5v4.9" stroke="#000" stroke-width="1.11"/>
<text x="479.1" y="598.8" font-size="13.89" text-anchor="middle" letter-spacing="-0.2">03:30</text>
<text x="525.4" y="617.3" font-size="13.89" text-anchor="end">2025-Mar-05</text>
<text x="299.8" y="618.73" font-size="13.89" text-anchor="middle" xml:space="preserve">Start time of individual radar</text>
<text x="299.8" y="634.73" font-size="13.89" text-anchor="middle" xml:space="preserve">scan volumes  from which</text>
<text x="299.8" y="651.35" font-size="13.89" text-anchor="middle" xml:space="preserve">column are extracted  [UTC</text>
<text x="299.8" y="667.35" font-size="13.89" text-anchor="middle" xml:space="preserve">Time]</text>
<text transform="translate(19.9 496.2) rotate(-90)" font-size="13.89" text-anchor="middle">Height of Radar Beam [m]</text>
<rect x="554.5" y="410.5" width="8.0" height="168.0" fill="url(#cb)" stroke="#000" stroke-width="1.11"/>
<path d="M562.5 560.5h4.9" stroke="#000" stroke-width="1.11"/>
<text x="571.5" y="566.5" font-size="13.89">−<tspan dx="-0.9">20</tspan></text>
<path d="M562.5 525.5h4.9" stroke="#000" stroke-width="1.11"/>
<text x="571.8" y="531.2" font-size="13.89">0</text>
<path d="M562.5 490.5h4.9" stroke="#000" stroke-width="1.11"/>
<text x="571.8" y="496.0" font-size="13.89">20</text>
<path d="M562.5 454.5h4.9" stroke="#000" stroke-width="1.11"/>
<text x="571.8" y="460.8" font-size="13.89">40</text>
<path d="M562.5 419.5h4.9" stroke="#000" stroke-width="1.11"/>
<text x="571.8" y="425.5" font-size="13.89">60</text>
<text transform="translate(617.1 496.3) rotate(-90)" font-size="13.89" text-anchor="middle">Corrected reflectivity [dBZ]</text>
</g>
<g>
<g shape-rendering="crispEdges">
<rect x="751" y="410" width="19" height="6" fill="#e8f09e"/>
<rect x="751" y="416" width="19" height="5" fill="#f3f8aa"/>
<rect x="751" y="421" width="19" height="5" fill="#fdfdb6"/>
<rect x="751" y="426" width="19" height="5" fill="#f9f2aa"/>
<rect x="751" y="431" width="19" height="6" fill="#f7ea9f"/>
<rect x="751" y="437" width="19" height="5" fill="#f6e192"/>
<rect x="751" y="442" width="19" height="5" fill="#f4d685"/>
<rect x="751" y="447" width="19" height="5" fill="#f2cb7a"/>
<rect x="751" y="452" width="19" height="6" fill="#f2c170"/>
<rect x="751" y="458" width="19" height="5" fill="#efb062"/>
<rect x="751" y="463" width="19" height="5" fill="#efa359"/>
<rect x="751" y="468" width="19" height="5" fill="#ee924e"/>
<rect x="751" y="473" width="19" height="5" fill="#ed8044"/>
<rect x="751" y="478" width="19" height="6" fill="#eb6c3e"/>
<rect x="751" y="484" width="19" height="5" fill="#e8623d"/>
<rect x="751" y="489" width="19" height="5" fill="#e25840"/>
<rect x="751" y="494" width="19" height="5" fill="#de5240"/>
<rect x="751" y="499" width="19" height="6" fill="#d54642"/>
<rect x="751" y="505" width="19" height="5" fill="#c22e4a"/>
<rect x="751" y="510" width="19" height="5" fill="#9e0446"/>
<rect x="751" y="541" width="19" height="5" fill="#cf3e46"/>
<rect x="751" y="546" width="19" height="6" fill="#d54642"/>
<rect x="751" y="552" width="19" height="5" fill="#db4e40"/>
<rect x="751" y="557" width="19" height="5" fill="#d24244"/>
<rect x="751" y="562" width="19" height="5" fill="#c6324a"/>
<rect x="770" y="410" width="19" height="6" fill="#fdfdb6"/>
<rect x="770" y="416" width="19" height="5" fill="#f8eea6"/>
<rect x="770" y="421" width="19" height="5" fill="#f5de8e"/>
<rect x="770" y="426" width="19" height="5" fill="#f2cb7a"/>
<rect x="770" y="431" width="19" height="6" fill="#f2c170"/>
<rect x="770" y="437" width="19" height="5" fill="#efb062"/>
<rect x="770" y="442" width="19" height="5" fill="#efa359"/>
<rect x="770" y="447" width="19" height="5" fill="#ee8e4c"/>
<rect x="770" y="452" width="19" height="6" fill="#ec7a42"/>
<rect x="770" y="458" width="19" height="5" fill="#eb6c3e"/>
<rect x="770" y="463" width="19" height="10" fill="#e8623d"/>
<rect x="770" y="473" width="19" height="5" fill="#e25840"/>
<rect x="770" y="478" width="19" height="6" fill="#de5240"/>
<rect x="770" y="484" width="19" height="5" fill="#db4e40"/>
<rect x="770" y="489" width="19" height="5" fill="#d54642"/>
<rect x="770" y="494" width="19" height="5" fill="#cf3e46"/>
<rect x="770" y="499" width="19" height="6" fill="#c93648"/>
<rect x="770" y="505" width="19" height="5" fill="#bc264a"/>
<rect x="770" y="510" width="19" height="5" fill="#a40a46"/>
<rect x="770" y="541" width="19" height="5" fill="#cc3a47"/>
<rect x="770" y="546" width="19" height="6" fill="#d84a41"/>
<rect x="770" y="552" width="19" height="5" fill="#e25840"/>
<rect x="770" y="557" width="19" height="5" fill="#ea673e"/>
<rect x="770" y="562" width="19" height="5" fill="#ec7440"/>
<rect x="789" y="410" width="19" height="6" fill="#bedc8d"/>
<rect x="789" y="416" width="19" height="5" fill="#cfe48f"/>
<rect x="789" y="421" width="19" height="5" fill="#dfeb96"/>
<rect x="789" y="426" width="19" height="5" fill="#f3f8aa"/>
<rect x="789" y="431" width="19" height="6" fill="#fdfdb6"/>
<rect x="789" y="437" width="19" height="5" fill="#f8eea6"/>
<rect x="789" y="442" width="19" height="5" fill="#f4d685"/>
<rect x="789" y="447" width="19" height="5" fill="#f1bc6a"/>
<rect x="789" y="452" width="19" height="6" fill="#ef9e56"/>
<rect x="789" y="458" width="19" height="5" fill="#ed8044"/>
<rect x="789" y="463" width="19" height="5" fill="#eb6c3e"/>
<rect x="789" y="468" width="19" height="5" fill="#e8623d"/>
<rect x="789" y="473" width="19" height="5" fill="#e55d3e"/>
<rect x="789" y="478" width="19" height="6" fill="#e05540"/>
<rect x="789" y="484" width="19" height="5" fill="#db4e40"/>
<rect x="789" y="489" width="19" height="5" fill="#d84a41"/>
<rect x="789" y="494" width="19" height="5" fill="#d54642"/>
<rect x="789" y="499" width="19" height="6" fill="#cf3e46"/>
<rect x="789" y="505" width="19" height="5" fill="#be2a4a"/>
<rect x="789" y="510" width="19" height="5" fill="#9e0446"/>
<rect x="789" y="541" width="19" height="5" fill="#cf3e46"/>
<rect x="789" y="546" width="19" height="21" fill="#c6324a"/>
<rect x="808" y="410" width="19" height="6" fill="#f6faae"/>
<rect x="808" y="416" width="19" height="10" fill="#fdfdb6"/>
<rect x="808" y="426" width="19" height="5" fill="#faf5ae"/>
<rect x="808" y="431" width="19" height="6" fill="#f8eea6"/>
<rect x="808" y="437" width="19" height="5" fill="#f6e698"/>
<rect x="808" y="442" width="19" height="5" fill="#f5dc8c"/>
<rect x="808" y="447" width="19" height="5" fill="#f3d07e"/>
<rect x="808" y="452" width="19" height="6" fill="#f2c676"/>
<rect x="808" y="458" width="19" height="5" fill="#f1bc6a"/>
<rect x="808" y="463" width="19" height="5" fill="#efac5f"/>
<rect x="808" y="468" width="19" height="5" fill="#ef9e56"/>
<rect x="808" y="473" width="19" height="5" fill="#ee8e4c"/>
<rect x="808" y="478" width="19" height="6" fill="#ee8547"/>
<rect x="808" y="484" width="19" height="5" fill="#ec7a42"/>
<rect x="808" y="489" width="19" height="5" fill="#ec703f"/>
<rect x="808" y="494" width="19" height="5" fill="#ea673e"/>
<rect x="808" y="499" width="19" height="6" fill="#e25840"/>
<rect x="808" y="505" width="19" height="5" fill="#db4e40"/>
<rect x="808" y="510" width="19" height="5" fill="#c93648"/>
<rect x="808" y="515" width="19" height="5" fill="#b62048"/>
<rect x="808" y="520" width="19" height="6" fill="#c93648"/>
<rect x="808" y="526" width="19" height="5" fill="#de5240"/>
<rect x="808" y="531" width="19" height="36" fill="#e25840"/>
<rect x="827" y="410" width="19" height="6" fill="#e3ee9a"/>
<rect x="827" y="416" width="19" height="5" fill="#f0f6a6"/>
<rect x="827" y="421" width="19" height="10" fill="#fdfdb6"/>
<rect x="827" y="431" width="19" height="6" fill="#faf5ae"/>
<rect x="827" y="437" width="19" height="5" fill="#f7ea9f"/>
<rect x="827" y="442" width="19" height="5" fill="#f4d685"/>
<rect x="827" y="447" width="19" height="5" fill="#f2c676"/>
<rect x="827" y="452" width="19" height="6" fill="#f0b666"/>
<rect x="827" y="458" width="19" height="5" fill="#efa85c"/>
<rect x="827" y="463" width="19" height="5" fill="#ee9852"/>
<rect x="827" y="468" width="19" height="5" fill="#ee8547"/>
<rect x="827" y="473" width="19" height="5" fill="#ec703f"/>
<rect x="827" y="478" width="19" height="6" fill="#e8623d"/>
<rect x="827" y="484" width="19" height="5" fill="#e25840"/>
<rect x="827" y="489" width="19" height="5" fill="#e05540"/>
<rect x="827" y="494" width="19" height="5" fill="#e8623d"/>
<rect x="827" y="499" width="19" height="11" fill="#eb6c3e"/>
<rect x="827" y="510" width="19" height="5" fill="#cc3a47"/>
<rect x="827" y="541" width="19" height="5" fill="#de5240"/>
<rect x="827" y="546" width="19" height="6" fill="#db4e40"/>
<rect x="827" y="552" width="19" height="10" fill="#d84a41"/>
<rect x="827" y="562" width="19" height="5" fill="#de5240"/>
<rect x="846" y="437" width="26" height="5" fill="#cfe48f"/>
<rect x="846" y="442" width="26" height="5" fill="#dfeb96"/>
<rect x="846" y="447" width="26" height="5" fill="#ecf3a2"/>
<rect x="846" y="452" width="26" height="6" fill="#f6faae"/>
<rect x="846" y="458" width="26" height="5" fill="#fdfdb6"/>
<rect x="846" y="463" width="26" height="5" fill="#faf5ae"/>
<rect x="846" y="468" width="26" height="5" fill="#f8eea6"/>
<rect x="846" y="473" width="26" height="5" fill="#f6e698"/>
<rect x="846" y="478" width="26" height="6" fill="#f4d685"/>
<rect x="846" y="484" width="26" height="5" fill="#f2cb7a"/>
<rect x="846" y="489" width="26" height="5" fill="#efb062"/>
<rect x="846" y="494" width="26" height="5" fill="#ee8a4a"/>
<rect x="846" y="499" width="26" height="6" fill="#e8623d"/>
<rect x="846" y="505" width="26" height="5" fill="#d54642"/>
<rect x="846" y="510" width="26" height="5" fill="#be2a4a"/>
<rect x="846" y="541" width="26" height="26" fill="#e25840"/>
<rect x="872" y="463" width="25" height="5" fill="#f5dc8c"/>
<rect x="872" y="468" width="25" height="5" fill="#f2c170"/>
<rect x="872" y="473" width="25" height="5" fill="#efa359"/>
<rect x="872" y="478" width="25" height="6" fill="#ec7a42"/>
<rect x="872" y="484" width="25" height="5" fill="#e25840"/>
<rect x="872" y="489" width="25" height="5" fill="#d54642"/>
<rect x="872" y="494" width="25" height="5" fill="#cc3a47"/>
<rect x="872" y="499" width="25" height="6" fill="#c22e4a"/>
<rect x="872" y="505" width="25" height="5" fill="#b41c48"/>
<rect x="872" y="510" width="25" height="5" fill="#9d024b"/>
<rect x="872" y="541" width="25" height="5" fill="#be2a4a"/>
<rect x="872" y="546" width="25" height="6" fill="#c6324a"/>
<rect x="872" y="552" width="25" height="5" fill="#d24244"/>
<rect x="872" y="557" width="25" height="5" fill="#eb6c3e"/>
<rect x="872" y="562" width="25" height="5" fill="#ef9e56"/>
<rect x="897" y="410" width="19" height="11" fill="#e8f09e"/>
<rect x="897" y="421" width="19" height="5" fill="#dbe994"/>
<rect x="897" y="426" width="19" height="5" fill="#d3e691"/>
<rect x="897" y="431" width="19" height="6" fill="#cbe28e"/>
<rect x="897" y="489" width="19" height="5" fill="#f1bc6a"/>
<rect x="897" y="494" width="19" height="5" fill="#f0b666"/>
<rect x="897" y="499" width="19" height="6" fill="#efa85c"/>
<rect x="897" y="531" width="19" height="5" fill="#efa85c"/>
<rect x="897" y="536" width="19" height="5" fill="#efa057"/>
<rect x="897" y="541" width="19" height="5" fill="#efa359"/>
<rect x="897" y="546" width="19" height="6" fill="#f0b666"/>
<rect x="897" y="552" width="19" height="15" fill="#f2c676"/>
<rect x="916" y="437" width="19" height="5" fill="#f7ea9f"/>
<rect x="916" y="442" width="19" height="5" fill="#f3d07e"/>
<rect x="916" y="447" width="19" height="5" fill="#f0b666"/>
<rect x="916" y="452" width="19" height="6" fill="#ee9852"/>
<rect x="916" y="458" width="19" height="5" fill="#ed8044"/>
<rect x="916" y="463" width="19" height="5" fill="#eb6c3e"/>
<rect x="916" y="468" width="19" height="16" fill="#e55d3e"/>
<rect x="916" y="484" width="19" height="5" fill="#e25840"/>
<rect x="916" y="489" width="19" height="10" fill="#e55d3e"/>
<rect x="916" y="499" width="19" height="6" fill="#ea673e"/>
<rect x="916" y="531" width="19" height="5" fill="#efa85c"/>
<rect x="916" y="536" width="19" height="5" fill="#f1bc6a"/>
<rect x="916" y="541" width="19" height="26" fill="#f2c878"/>
<rect x="935" y="463" width="19" height="5" fill="#f7ea9f"/>
<rect x="935" y="468" width="19" height="5" fill="#f6e698"/>
<rect x="935" y="473" width="19" height="5" fill="#f6e192"/>
<rect x="935" y="478" width="19" height="6" fill="#f5dc8c"/>
<rect x="935" y="484" width="19" height="5" fill="#f4d685"/>
<rect x="935" y="489" width="19" height="5" fill="#f3d07e"/>
<rect x="935" y="494" width="19" height="5" fill="#f2cb7a"/>
<rect x="935" y="499" width="19" height="6" fill="#f2c170"/>
<rect x="935" y="531" width="19" height="5" fill="#ec7440"/>
<rect x="935" y="536" width="19" height="5" fill="#e05540"/>
<rect x="935" y="541" width="19" height="16" fill="#cc3a47"/>
<rect x="935" y="557" width="19" height="5" fill="#cf3e46"/>
<rect x="935" y="562" width="19" height="5" fill="#de5240"/>
<rect x="954" y="410" width="19" height="6" fill="#f7ea9f"/>
<rect x="954" y="416" width="19" height="5" fill="#f5dc8c"/>
<rect x="954" y="421" width="19" height="5" fill="#f2c676"/>
<rect x="954" y="426" width="19" height="5" fill="#f0b666"/>
<rect x="954" y="431" width="19" height="6" fill="#efa85c"/>
<rect x="954" y="437" width="19" height="5" fill="#ee9852"/>
<rect x="954" y="442" width="19" height="5" fill="#ee8547"/>
<rect x="954" y="447" width="19" height="5" fill="#ec7440"/>
<rect x="954" y="452" width="19" height="6" fill="#ea673e"/>
<rect x="954" y="458" width="19" height="20" fill="#e25840"/>
<rect x="954" y="478" width="19" height="21" fill="#e15640"/>
<rect x="954" y="499" width="19" height="6" fill="#db4e40"/>
<rect x="954" y="505" width="19" height="5" fill="#cf3e46"/>
<rect x="954" y="510" width="19" height="5" fill="#be2a4a"/>
<rect x="954" y="515" width="19" height="5" fill="#b41c48"/>
<rect x="954" y="520" width="19" height="6" fill="#cc3a47"/>
<rect x="954" y="526" width="19" height="5" fill="#ea673e"/>
<rect x="954" y="531" width="19" height="5" fill="#ec7a42"/>
<rect x="954" y="536" width="19" height="5" fill="#ee8a4a"/>
<rect x="954" y="541" width="19" height="5" fill="#ef9e56"/>
<rect x="954" y="546" width="19" height="6" fill="#efa85c"/>
<rect x="954" y="552" width="19" height="15" fill="#efb062"/>
<rect x="973" y="437" width="20" height="5" fill="#d3e691"/>
<rect x="973" y="442" width="20" height="5" fill="#f3f8aa"/>
<rect x="973" y="447" width="20" height="5" fill="#f9f2aa"/>
<rect x="973" y="452" width="20" height="6" fill="#f5dc8c"/>
<rect x="973" y="458" width="20" height="5" fill="#f2c170"/>
<rect x="973" y="463" width="20" height="5" fill="#efa85c"/>
<rect x="973" y="468" width="20" height="5" fill="#ee9852"/>
<rect x="973" y="473" width="20" height="5" fill="#ee8a4a"/>
<rect x="973" y="478" width="20" height="6" fill="#ec7a42"/>
<rect x="973" y="484" width="20" height="5" fill="#eb6c3e"/>
<rect x="973" y="489" width="20" height="5" fill="#e55d3e"/>
<rect x="973" y="494" width="20" height="5" fill="#de5240"/>
<rect x="973" y="499" width="20" height="6" fill="#d24244"/>
<rect x="973" y="505" width="20" height="5" fill="#c22e4a"/>
<rect x="973" y="510" width="20" height="5" fill="#a91047"/>
<rect x="973" y="541" width="20" height="5" fill="#de5240"/>
<rect x="973" y="546" width="20" height="6" fill="#db4e40"/>
<rect x="973" y="552" width="20" height="5" fill="#e05540"/>
<rect x="973" y="557" width="20" height="5" fill="#e25840"/>
<rect x="973" y="562" width="20" height="5" fill="#e05540"/>
<rect x="993" y="410" width="19" height="6" fill="#f1bc6a"/>
<rect x="993" y="416" width="19" height="5" fill="#f0b666"/>
<rect x="993" y="421" width="19" height="5" fill="#efa85c"/>
<rect x="993" y="426" width="19" height="5" fill="#ee9852"/>
<rect x="993" y="431" width="19" height="6" fill="#ee8e4c"/>
<rect x="993" y="437" width="19" height="5" fill="#ee8547"/>
<rect x="993" y="442" width="19" height="5" fill="#ed8044"/>
<rect x="993" y="447" width="19" height="5" fill="#ec7a42"/>
<rect x="993" y="452" width="19" height="6" fill="#ec703f"/>
<rect x="993" y="458" width="19" height="20" fill="#eb6c3e"/>
<rect x="993" y="478" width="19" height="11" fill="#e8623d"/>
<rect x="993" y="489" width="19" height="5" fill="#e25840"/>
<rect x="993" y="494" width="19" height="5" fill="#db4e40"/>
<rect x="993" y="499" width="19" height="6" fill="#d54642"/>
<rect x="993" y="505" width="19" height="5" fill="#cc3a47"/>
<rect x="993" y="510" width="19" height="5" fill="#be2a4a"/>
<rect x="993" y="515" width="19" height="5" fill="#b92349"/>
<rect x="993" y="520" width="19" height="6" fill="#cf3e46"/>
<rect x="993" y="526" width="19" height="5" fill="#e55d3e"/>
<rect x="993" y="531" width="19" height="5" fill="#eb6c3e"/>
<rect x="993" y="536" width="19" height="10" fill="#ec703f"/>
<rect x="993" y="546" width="19" height="6" fill="#ec7a42"/>
<rect x="993" y="552" width="19" height="5" fill="#ee8547"/>
<rect x="993" y="557" width="19" height="5" fill="#ee924e"/>
<rect x="993" y="562" width="19" height="5" fill="#efa359"/>
<rect x="1012" y="410" width="19" height="6" fill="#f2c170"/>
<rect x="1012" y="416" width="19" height="5" fill="#f1bc6a"/>
<rect x="1012" y="421" width="19" height="5" fill="#f0b666"/>
<rect x="1012" y="426" width="19" height="5" fill="#efac5f"/>
<rect x="1012" y="431" width="19" height="6" fill="#efa359"/>
<rect x="1012" y="437" width="19" height="5" fill="#ee9852"/>
<rect x="1012" y="442" width="19" height="5" fill="#ee8e4c"/>
<rect x="1012" y="447" width="19" height="5" fill="#ee8547"/>
<rect x="1012" y="452" width="19" height="6" fill="#ec7a42"/>
<rect x="1012" y="458" width="19" height="5" fill="#ec703f"/>
<rect x="1012" y="463" width="19" height="5" fill="#ea673e"/>
<rect x="1012" y="468" width="19" height="5" fill="#e55d3e"/>
<rect x="1012" y="473" width="19" height="5" fill="#e05540"/>
<rect x="1012" y="478" width="19" height="6" fill="#d84a41"/>
<rect x="1012" y="484" width="19" height="15" fill="#cf3e46"/>
<rect x="1012" y="499" width="19" height="6" fill="#c93648"/>
<rect x="1012" y="505" width="19" height="5" fill="#be2a4a"/>
<rect x="1012" y="510" width="19" height="5" fill="#ae1648"/>
<rect x="1012" y="541" width="19" height="11" fill="#db4e40"/>
<rect x="1012" y="552" width="19" height="15" fill="#e05540"/>
<rect x="1031" y="410" width="19" height="16" fill="#f7ea9f"/>
<rect x="1031" y="426" width="19" height="21" fill="#f9f2aa"/>
<rect x="1031" y="447" width="19" height="16" fill="#f8eea6"/>
<rect x="1031" y="463" width="19" height="5" fill="#f5dc8c"/>
<rect x="1031" y="468" width="19" height="5" fill="#f2c170"/>
<rect x="1031" y="473" width="19" height="5" fill="#efa359"/>
<rect x="1031" y="478" width="19" height="6" fill="#ec7a42"/>
<rect x="1031" y="484" width="19" height="5" fill="#e25840"/>
<rect x="1031" y="489" width="19" height="5" fill="#db4e40"/>
<rect x="1031" y="494" width="19" height="5" fill="#d54642"/>
<rect x="1031" y="499" width="19" height="6" fill="#d24244"/>
<rect x="1031" y="505" width="19" height="10" fill="#cf3e46"/>
<rect x="1031" y="541" width="19" height="5" fill="#d54642"/>
<rect x="1031" y="546" width="19" height="6" fill="#db4e40"/>
<rect x="1031" y="552" width="19" height="5" fill="#e25840"/>
<rect x="1031" y="557" width="19" height="5" fill="#ea673e"/>
<rect x="1031" y="562" width="19" height="5" fill="#ec7440"/>
<rect x="1050" y="410" width="19" height="11" fill="#bada8e"/>
<rect x="1050" y="421" width="19" height="5" fill="#afd68e"/>
<rect x="1050" y="426" width="19" height="11" fill="#a4d08e"/>
<rect x="1050" y="437" width="19" height="5" fill="#bedc8d"/>
<rect x="1050" y="442" width="19" height="5" fill="#f6faae"/>
<rect x="1050" y="447" width="19" height="5" fill="#f4d685"/>
<rect x="1050" y="452" width="19" height="6" fill="#efa85c"/>
<rect x="1050" y="458" width="19" height="5" fill="#e8623d"/>
<rect x="1050" y="463" width="19" height="5" fill="#d84a41"/>
<rect x="1050" y="468" width="19" height="5" fill="#cf3e46"/>
<rect x="1050" y="473" width="19" height="5" fill="#c6324a"/>
<rect x="1050" y="478" width="19" height="6" fill="#be2a4a"/>
<rect x="1050" y="484" width="19" height="5" fill="#b92349"/>
<rect x="1050" y="489" width="19" height="5" fill="#ae1648"/>
<rect x="1050" y="494" width="19" height="5" fill="#a40a46"/>
<rect x="1050" y="499" width="19" height="11" fill="#9d024b"/>
<rect x="1050" y="510" width="19" height="5" fill="#9e0446"/>
<rect x="1050" y="515" width="19" height="5" fill="#a40a46"/>
<rect x="1050" y="520" width="19" height="6" fill="#b4227b"/>
<rect x="1050" y="526" width="19" height="5" fill="#d74ca0"/>
<rect x="1050" y="531" width="19" height="5" fill="#da58a5"/>
<rect x="1050" y="536" width="19" height="5" fill="#d74ca0"/>
<rect x="1050" y="541" width="19" height="5" fill="#ce3a94"/>
<rect x="1050" y="546" width="19" height="6" fill="#b92680"/>
<rect x="1050" y="552" width="19" height="5" fill="#9c014e"/>
<rect x="1050" y="557" width="19" height="5" fill="#cc3a47"/>
<rect x="1050" y="562" width="19" height="5" fill="#ec7440"/>
<rect x="1069" y="410" width="19" height="6" fill="#f6e192"/>
<rect x="1069" y="416" width="19" height="5" fill="#f3d07e"/>
<rect x="1069" y="421" width="19" height="5" fill="#f1bc6a"/>
<rect x="1069" y="426" width="19" height="5" fill="#efa85c"/>
<rect x="1069" y="431" width="19" height="6" fill="#ee9852"/>
<rect x="1069" y="437" width="19" height="26" fill="#ee8c4b"/>
<rect x="1069" y="463" width="19" height="15" fill="#ee8a4a"/>
<rect x="1069" y="478" width="19" height="27" fill="#ee8e4c"/>
<rect x="1069" y="505" width="19" height="5" fill="#ee8547"/>
<rect x="1069" y="510" width="19" height="5" fill="#ec7440"/>
<rect x="1069" y="515" width="19" height="5" fill="#ec703f"/>
<rect x="1069" y="520" width="19" height="16" fill="#ea673e"/>
<rect x="1069" y="536" width="19" height="5" fill="#ec7440"/>
<rect x="1069" y="541" width="19" height="5" fill="#ee8547"/>
<rect x="1069" y="546" width="19" height="6" fill="#ee8a4a"/>
<rect x="1069" y="552" width="19" height="5" fill="#ee8e4c"/>
<rect x="1069" y="557" width="19" height="5" fill="#ee9852"/>
<rect x="1069" y="562" width="19" height="5" fill="#efac5f"/>
<rect x="1088" y="410" width="19" height="6" fill="#ee924e"/>
<rect x="1088" y="416" width="19" height="5" fill="#ee8a4a"/>
<rect x="1088" y="421" width="19" height="5" fill="#ed8044"/>
<rect x="1088" y="426" width="19" height="5" fill="#ec703f"/>
<rect x="1088" y="431" width="19" height="6" fill="#eb6c3e"/>
<rect x="1088" y="437" width="19" height="5" fill="#e8623d"/>
<rect x="1088" y="442" width="19" height="5" fill="#e55d3e"/>
<rect x="1088" y="447" width="19" height="5" fill="#e05540"/>
<rect x="1088" y="452" width="19" height="6" fill="#de5240"/>
<rect x="1088" y="458" width="19" height="15" fill="#d94c41"/>
<rect x="1088" y="473" width="19" height="16" fill="#de5240"/>
<rect x="1088" y="489" width="19" height="5" fill="#d84a41"/>
<rect x="1088" y="494" width="19" height="5" fill="#cf3e46"/>
<rect x="1088" y="499" width="19" height="6" fill="#c93648"/>
<rect x="1088" y="505" width="19" height="5" fill="#c6324a"/>
<rect x="1088" y="510" width="19" height="5" fill="#be2a4a"/>
<rect x="1088" y="541" width="19" height="5" fill="#d54642"/>
<rect x="1088" y="546" width="19" height="6" fill="#db4e40"/>
<rect x="1088" y="552" width="19" height="5" fill="#e25840"/>
<rect x="1088" y="557" width="19" height="10" fill="#ea673e"/>
<rect x="1107" y="463" width="19" height="5" fill="#ec7a42"/>
<rect x="1107" y="468" width="19" height="5" fill="#ec703f"/>
<rect x="1107" y="473" width="19" height="5" fill="#ea673e"/>
<rect x="1107" y="478" width="19" height="6" fill="#e55d3e"/>
<rect x="1107" y="484" width="19" height="5" fill="#e05540"/>
<rect x="1107" y="489" width="19" height="5" fill="#db4e40"/>
<rect x="1107" y="494" width="19" height="5" fill="#d24244"/>
<rect x="1107" y="499" width="19" height="6" fill="#cc3a47"/>
<rect x="1107" y="505" width="19" height="5" fill="#c93648"/>
<rect x="1107" y="510" width="19" height="5" fill="#c6324a"/>
<rect x="1107" y="541" width="19" height="5" fill="#cc3a47"/>
<rect x="1107" y="546" width="19" height="21" fill="#c73449"/>
<rect x="1126" y="437" width="19" height="5" fill="#aad38e"/>
<rect x="1126" y="442" width="19" height="5" fill="#bada8e"/>
<rect x="1126" y="447" width="19" height="5" fill="#cbe28e"/>
<rect x="1126" y="452" width="19" height="6" fill="#d7e793"/>
<rect x="1126" y="458" width="19" height="5" fill="#e3ee9a"/>
<rect x="1126" y="463" width="19" height="5" fill="#fdfdb6"/>
<rect x="1126" y="468" width="19" height="5" fill="#f7ea9f"/>
<rect x="1126" y="473" width="19" height="5" fill="#f2c676"/>
<rect x="1126" y="478" width="19" height="6" fill="#ef9e56"/>
<rect x="1126" y="484" width="19" height="5" fill="#ec703f"/>
<rect x="1126" y="489" width="19" height="5" fill="#e25840"/>
<rect x="1126" y="494" width="19" height="5" fill="#d84a41"/>
<rect x="1126" y="499" width="19" height="6" fill="#cf3e46"/>
<rect x="1126" y="505" width="19" height="5" fill="#c93648"/>
<rect x="1126" y="510" width="19" height="5" fill="#c6324a"/>
<rect x="1126" y="541" width="19" height="5" fill="#c6324a"/>
<rect x="1126" y="546" width="19" height="6" fill="#be2a4a"/>
<rect x="1126" y="552" width="19" height="5" fill="#b92349"/>
<rect x="1126" y="557" width="19" height="5" fill="#bc264a"/>
<rect x="1126" y="562" width="19" height="5" fill="#c22e4a"/>
<rect x="1145" y="410" width="19" height="27" fill="#ed7c43"/>
<rect x="1145" y="437" width="19" height="5" fill="#ec7440"/>
<rect x="1145" y="442" width="19" height="5" fill="#eb6c3e"/>
<rect x="1145" y="447" width="19" height="5" fill="#e8623d"/>
<rect x="1145" y="452" width="19" height="11" fill="#e55d3e"/>
<rect x="1145" y="463" width="19" height="26" fill="#e15640"/>
<rect x="1145" y="489" width="19" height="5" fill="#db4e40"/>
<rect x="1145" y="494" width="19" height="5" fill="#d54642"/>
<rect x="1145" y="499" width="19" height="6" fill="#cf3e46"/>
<rect x="1145" y="505" width="19" height="5" fill="#c93648"/>
<rect x="1145" y="510" width="19" height="5" fill="#c6324a"/>
<rect x="1145" y="541" width="19" height="5" fill="#c22e4a"/>
<rect x="1145" y="546" width="19" height="16" fill="#bc284a"/>
<rect x="1145" y="562" width="19" height="5" fill="#c6324a"/>
<rect x="1164" y="410" width="19" height="11" fill="#9ece8e"/>
<rect x="1164" y="421" width="19" height="5" fill="#aad38e"/>
<rect x="1164" y="426" width="19" height="5" fill="#b5d88e"/>
<rect x="1164" y="431" width="19" height="6" fill="#c2de8c"/>
<rect x="1164" y="437" width="19" height="5" fill="#d3e691"/>
<rect x="1164" y="442" width="19" height="5" fill="#f6faae"/>
<rect x="1164" y="447" width="19" height="5" fill="#f6e698"/>
<rect x="1164" y="452" width="19" height="6" fill="#f0b666"/>
<rect x="1164" y="458" width="19" height="5" fill="#ee8a4a"/>
<rect x="1164" y="463" width="19" height="5" fill="#ec703f"/>
<rect x="1164" y="468" width="19" height="5" fill="#ea673e"/>
<rect x="1164" y="473" width="19" height="5" fill="#e55d3e"/>
<rect x="1164" y="478" width="19" height="6" fill="#e05540"/>
<rect x="1164" y="484" width="19" height="5" fill="#d84a41"/>
<rect x="1164" y="489" width="19" height="5" fill="#cf3e46"/>
<rect x="1164" y="494" width="19" height="5" fill="#c93648"/>
<rect x="1164" y="499" width="19" height="6" fill="#c22e4a"/>
<rect x="1164" y="505" width="19" height="10" fill="#be2a4a"/>
<rect x="1164" y="515" width="19" height="5" fill="#c6324a"/>
<rect x="1164" y="520" width="19" height="6" fill="#c93648"/>
<rect x="1164" y="526" width="19" height="5" fill="#cc3a47"/>
<rect x="1164" y="531" width="19" height="5" fill="#d24244"/>
<rect x="1164" y="536" width="19" height="5" fill="#d54642"/>
<rect x="1164" y="541" width="19" height="11" fill="#d84a41"/>
<rect x="1164" y="552" width="19" height="15" fill="#de5240"/>
<rect x="1183" y="410" width="19" height="27" fill="#f2c878"/>
<rect x="1183" y="437" width="19" height="5" fill="#f3d07e"/>
<rect x="1183" y="442" width="19" height="5" fill="#f5dc8c"/>
<rect x="1183" y="447" width="19" height="5" fill="#f6e698"/>
<rect x="1183" y="452" width="19" height="6" fill="#f9f2aa"/>
<rect x="1183" y="458" width="19" height="10" fill="#fdfdb6"/>
<rect x="1183" y="468" width="19" height="5" fill="#faf5ae"/>
<rect x="1183" y="473" width="19" height="5" fill="#f8eea6"/>
<rect x="1183" y="478" width="19" height="6" fill="#f6e698"/>
<rect x="1183" y="484" width="19" height="5" fill="#f5dc8c"/>
<rect x="1183" y="489" width="19" height="5" fill="#f2c170"/>
<rect x="1183" y="494" width="19" height="5" fill="#ee9852"/>
<rect x="1183" y="499" width="19" height="6" fill="#eb6c3e"/>
<rect x="1183" y="505" width="19" height="5" fill="#de5240"/>
<rect x="1183" y="510" width="19" height="5" fill="#d54642"/>
<rect x="1183" y="541" width="19" height="26" fill="#c93648"/>
</g>
<rect x="751.5" y="410.5" width="451.0" height="168.0" fill="none" stroke="#000" stroke-width="1.11"/>
<text x="976.5" y="402.7" font-size="16.67" text-anchor="middle">station = S30</text>
<path d="M751.5 418.5h-4.9" stroke="#000" stroke-width="1.11"/>
<text x="741.5" y="423.9" font-size="13.89" text-anchor="end">8000</text>
<path d="M751.5 460.5h-4.9" stroke="#000" stroke-width="1.11"/>
<text x="741.5" y="465.7" font-size="13.89" text-anchor="end">6000</text>
<path d="M751.5 502.5h-4.9" stroke="#000" stroke-width="1.11"/>
<text x="741.5" y="507.6" font-size="13.89" text-anchor="end">4000</text>
<path d="M751.5 544.5h-4.9" stroke="#000" stroke-width="1.11"/>
<text x="741.5" y="549.4" font-size="13.89" text-anchor="end">2000</text>
<path d="M755.5 578.5v4.9" stroke="#000" stroke-width="1.11"/>
<text x="755.0" y="598.8" font-size="13.89" text-anchor="middle" letter-spacing="-0.2">00:00</text>
<path d="M812.5 578.5v4.9" stroke="#000" stroke-width="1.11"/>
<text x="812.2" y="598.8" font-size="13.89" text-anchor="middle" letter-spacing="-0.2">00:30</text>
<path d="M869.5 578.5v4.9" stroke="#000" stroke-width="1.11"/>
<text x="869.3" y="598.8" font-size="13.89" text-anchor="middle" letter-spacing="-0.2">01:00</text>
<path d="M926.5 578.5v4.9" stroke="#000" stroke-width="1.11"/>
<text x="926.4" y="598.8" font-size="13.89" text-anchor="middle" letter-spacing="-0.2">01:30</text>
<path d="M983.5 578.5v4.9" stroke="#000" stroke-width="1.11"/>
<text x="983.6" y="598.8" font-size="13.89" text-anchor="middle" letter-spacing="-0.2">02:00</text>
<path d="M1040.5 578.5v4.9" stroke="#000" stroke-width="1.11"/>
<text x="1040.7" y="598.8" font-size="13.89" text-anchor="middle" letter-spacing="-0.2">02:30</text>
<path d="M1097.5 578.5v4.9" stroke="#000" stroke-width="1.11"/>
<text x="1097.8" y="598.8" font-size="13.89" text-anchor="middle" letter-spacing="-0.2">03:00</text>
<path d="M1154.5 578.5v4.9" stroke="#000" stroke-width="1.11"/>
<text x="1155.0" y="598.8" font-size="13.89" text-anchor="middle" letter-spacing="-0.2">03:30</text>
<text x="1202.5" y="617.3" font-size="13.89" text-anchor="end">2025-Mar-05</text>
<text x="976.2" y="618.73" font-size="13.89" text-anchor="middle" xml:space="preserve">Start time of individual radar</text>
<text x="976.2" y="634.73" font-size="13.89" text-anchor="middle" xml:space="preserve">scan volumes  from which</text>
<text x="976.2" y="651.35" font-size="13.89" text-anchor="middle" xml:space="preserve">column are extracted  [UTC</text>
<text x="976.2" y="667.35" font-size="13.89" text-anchor="middle" xml:space="preserve">Time]</text>
<text transform="translate(696.2 496.2) rotate(-90)" font-size="13.89" text-anchor="middle">Height of Radar Beam [m]</text>
<rect x="1230.5" y="410.5" width="9.0" height="168.0" fill="url(#cb)" stroke="#000" stroke-width="1.11"/>
<path d="M1239.5 560.5h4.9" stroke="#000" stroke-width="1.11"/>
<text x="1248.3" y="566.5" font-size="13.89">−<tspan dx="-0.9">20</tspan></text>
<path d="M1239.5 525.5h4.9" stroke="#000" stroke-width="1.11"/>
<text x="1248.5" y="531.2" font-size="13.89">0</text>
<path d="M1239.5 490.5h4.9" stroke="#000" stroke-width="1.11"/>
<text x="1248.5" y="496.0" font-size="13.89">20</text>
<path d="M1239.5 454.5h4.9" stroke="#000" stroke-width="1.11"/>
<text x="1248.5" y="460.8" font-size="13.89">40</text>
<path d="M1239.5 419.5h4.9" stroke="#000" stroke-width="1.11"/>
<text x="1248.5" y="425.5" font-size="13.89">60</text>
<text transform="translate(1292.4 496.3) rotate(-90)" font-size="13.89" text-anchor="middle">Corrected reflectivity [dBZ]</text>
</g>
<g>
<g shape-rendering="crispEdges">
<rect x="75" y="712" width="19" height="5" fill="#ecf3a2"/>
<rect x="75" y="717" width="19" height="5" fill="#f3f8aa"/>
<rect x="75" y="722" width="19" height="11" fill="#fdfdb6"/>
<rect x="75" y="733" width="19" height="5" fill="#f9f2aa"/>
<rect x="75" y="738" width="19" height="5" fill="#f7ea9f"/>
<rect x="75" y="743" width="19" height="5" fill="#f6e192"/>
<rect x="75" y="748" width="19" height="6" fill="#f5dc8c"/>
<rect x="75" y="754" width="19" height="5" fill="#f4d685"/>
<rect x="75" y="759" width="19" height="5" fill="#f2cb7a"/>
<rect x="75" y="764" width="19" height="5" fill="#f2c676"/>
<rect x="75" y="769" width="19" height="5" fill="#f4d685"/>
<rect x="75" y="774" width="19" height="6" fill="#f7ea9f"/>
<rect x="75" y="780" width="19" height="5" fill="#fdfdb6"/>
<rect x="94" y="712" width="19" height="26" fill="#fdfdb6"/>
<rect x="94" y="738" width="19" height="5" fill="#fcf9b2"/>
<rect x="113" y="743" width="19" height="5" fill="#f0f6a6"/>
<rect x="113" y="748" width="19" height="6" fill="#f6faae"/>
<rect x="113" y="754" width="19" height="10" fill="#fdfdb6"/>
<rect x="113" y="764" width="19" height="10" fill="#fcf9b2"/>
<rect x="113" y="774" width="19" height="16" fill="#fdfdb6"/>
<rect x="113" y="790" width="19" height="5" fill="#f3f8aa"/>
<rect x="113" y="795" width="19" height="6" fill="#ecf3a2"/>
<rect x="113" y="801" width="19" height="5" fill="#dfeb96"/>
<rect x="132" y="743" width="19" height="5" fill="#f4d685"/>
<rect x="132" y="748" width="19" height="6" fill="#f2c170"/>
<rect x="132" y="754" width="19" height="5" fill="#efa85c"/>
<rect x="132" y="759" width="19" height="5" fill="#ee8a4a"/>
<rect x="132" y="764" width="19" height="5" fill="#eb6c3e"/>
<rect x="132" y="769" width="19" height="5" fill="#e8623d"/>
<rect x="132" y="774" width="19" height="6" fill="#e25840"/>
<rect x="132" y="780" width="19" height="5" fill="#de5240"/>
<rect x="132" y="785" width="19" height="5" fill="#d84a41"/>
<rect x="132" y="790" width="19" height="5" fill="#d24244"/>
<rect x="132" y="795" width="19" height="6" fill="#cf3e46"/>
<rect x="132" y="801" width="19" height="5" fill="#c93648"/>
<rect x="151" y="712" width="19" height="5" fill="#e3ee9a"/>
<rect x="151" y="717" width="19" height="5" fill="#ecf3a2"/>
<rect x="151" y="722" width="19" height="5" fill="#f6faae"/>
<rect x="151" y="727" width="19" height="11" fill="#fdfdb6"/>
<rect x="151" y="738" width="19" height="5" fill="#faf5ae"/>
<rect x="151" y="743" width="19" height="5" fill="#f6e698"/>
<rect x="151" y="748" width="19" height="6" fill="#f4d685"/>
<rect x="151" y="754" width="19" height="5" fill="#f2c170"/>
<rect x="151" y="759" width="19" height="5" fill="#efa85c"/>
<rect x="151" y="764" width="19" height="5" fill="#ee924e"/>
<rect x="151" y="769" width="19" height="5" fill="#ef9e56"/>
<rect x="151" y="774" width="19" height="6" fill="#efb062"/>
<rect x="151" y="780" width="19" height="5" fill="#f2c170"/>
<rect x="151" y="785" width="19" height="5" fill="#f2cb7a"/>
<rect x="151" y="790" width="19" height="5" fill="#efac5f"/>
<rect x="151" y="795" width="19" height="6" fill="#ee8547"/>
<rect x="151" y="801" width="19" height="5" fill="#ea673e"/>
<rect x="170" y="743" width="26" height="5" fill="#f8eea6"/>
<rect x="170" y="748" width="26" height="6" fill="#f6e698"/>
<rect x="170" y="754" width="26" height="5" fill="#f6e192"/>
<rect x="170" y="759" width="26" height="5" fill="#f4d685"/>
<rect x="170" y="764" width="26" height="5" fill="#f3d07e"/>
<rect x="170" y="769" width="26" height="5" fill="#f2cb7a"/>
<rect x="170" y="774" width="26" height="6" fill="#f2c676"/>
<rect x="170" y="780" width="26" height="5" fill="#f1bc6a"/>
<rect x="170" y="785" width="26" height="5" fill="#efb062"/>
<rect x="170" y="790" width="26" height="5" fill="#ee8a4a"/>
<rect x="170" y="795" width="26" height="6" fill="#e55d3e"/>
<rect x="170" y="801" width="26" height="5" fill="#cc3a47"/>
<rect x="196" y="743" width="25" height="5" fill="#dfeb96"/>
<rect x="196" y="748" width="25" height="6" fill="#fafbb2"/>
<rect x="196" y="754" width="25" height="5" fill="#f9f2aa"/>
<rect x="196" y="759" width="25" height="5" fill="#f5dc8c"/>
<rect x="196" y="764" width="25" height="5" fill="#f2c676"/>
<rect x="196" y="769" width="25" height="5" fill="#f2c170"/>
<rect x="196" y="774" width="25" height="6" fill="#f1bc6a"/>
<rect x="196" y="780" width="25" height="5" fill="#f0b666"/>
<rect x="196" y="785" width="25" height="5" fill="#efac5f"/>
<rect x="196" y="790" width="25" height="5" fill="#ee9852"/>
<rect x="196" y="795" width="25" height="6" fill="#ee8547"/>
<rect x="196" y="801" width="25" height="5" fill="#ec7440"/>
<rect x="196" y="806" width="25" height="5" fill="#ea673e"/>
<rect x="196" y="811" width="25" height="5" fill="#ec7440"/>
<rect x="196" y="816" width="25" height="6" fill="#ee8a4a"/>
<rect x="196" y="822" width="25" height="5" fill="#ef9e56"/>
<rect x="196" y="827" width="25" height="5" fill="#efa85c"/>
<rect x="196" y="832" width="25" height="5" fill="#efa359"/>
<rect x="196" y="837" width="25" height="5" fill="#ee9852"/>
<rect x="196" y="842" width="25" height="6" fill="#ee8a4a"/>
<rect x="240" y="712" width="19" height="5" fill="#fcf9b2"/>
<rect x="240" y="717" width="19" height="5" fill="#f8eea6"/>
<rect x="240" y="722" width="19" height="5" fill="#f6e192"/>
<rect x="240" y="727" width="19" height="6" fill="#f4d685"/>
<rect x="240" y="733" width="19" height="5" fill="#f2cb7a"/>
<rect x="240" y="738" width="19" height="5" fill="#f1bc6a"/>
<rect x="240" y="743" width="19" height="5" fill="#efac5f"/>
<rect x="240" y="748" width="19" height="6" fill="#ef9e56"/>
<rect x="240" y="754" width="19" height="5" fill="#ee8e4c"/>
<rect x="240" y="759" width="19" height="5" fill="#ec7a42"/>
<rect x="240" y="764" width="19" height="10" fill="#eb6c3e"/>
<rect x="240" y="774" width="19" height="6" fill="#ea673e"/>
<rect x="240" y="780" width="19" height="10" fill="#e8623d"/>
<rect x="240" y="790" width="19" height="11" fill="#eb6c3e"/>
<rect x="240" y="801" width="19" height="5" fill="#ec7440"/>
<rect x="240" y="806" width="19" height="10" fill="#ec7a42"/>
<rect x="240" y="816" width="19" height="11" fill="#ed8044"/>
<rect x="240" y="827" width="19" height="5" fill="#ee8547"/>
<rect x="240" y="832" width="19" height="5" fill="#ee924e"/>
<rect x="240" y="837" width="19" height="5" fill="#ef9e56"/>
<rect x="240" y="842" width="19" height="6" fill="#efa85c"/>
<rect x="240" y="848" width="19" height="5" fill="#efb062"/>
<rect x="259" y="712" width="19" height="5" fill="#f2cb7a"/>
<rect x="259" y="717" width="19" height="5" fill="#f1bc6a"/>
<rect x="259" y="722" width="19" height="5" fill="#efa85c"/>
<rect x="259" y="727" width="19" height="6" fill="#ee924e"/>
<rect x="259" y="733" width="19" height="5" fill="#ec7a42"/>
<rect x="259" y="738" width="19" height="5" fill="#e8623d"/>
<rect x="259" y="743" width="19" height="16" fill="#e25840"/>
<rect x="259" y="759" width="19" height="10" fill="#e05540"/>
<rect x="259" y="769" width="19" height="5" fill="#e25840"/>
<rect x="259" y="774" width="19" height="6" fill="#e55d3e"/>
<rect x="259" y="780" width="19" height="5" fill="#e8623d"/>
<rect x="259" y="785" width="19" height="5" fill="#ea673e"/>
<rect x="259" y="790" width="19" height="5" fill="#eb6c3e"/>
<rect x="259" y="795" width="19" height="6" fill="#ec703f"/>
<rect x="259" y="801" width="19" height="5" fill="#ec7440"/>
<rect x="259" y="806" width="19" height="31" fill="#ed8044"/>
<rect x="259" y="837" width="19" height="16" fill="#ee8748"/>
<rect x="278" y="712" width="19" height="5" fill="#f9f2aa"/>
<rect x="278" y="717" width="19" height="5" fill="#f6e192"/>
<rect x="278" y="722" width="19" height="5" fill="#f2c676"/>
<rect x="278" y="727" width="19" height="6" fill="#efa359"/>
<rect x="278" y="733" width="19" height="5" fill="#ee8a4a"/>
<rect x="278" y="738" width="19" height="5" fill="#ec7a42"/>
<rect x="278" y="743" width="19" height="16" fill="#ec7440"/>
<rect x="278" y="759" width="19" height="5" fill="#ec703f"/>
<rect x="278" y="764" width="19" height="5" fill="#ea673e"/>
<rect x="278" y="769" width="19" height="5" fill="#e55d3e"/>
<rect x="278" y="774" width="19" height="6" fill="#de5240"/>
<rect x="278" y="780" width="19" height="5" fill="#d54642"/>
<rect x="278" y="785" width="19" height="5" fill="#cc3a47"/>
<rect x="278" y="790" width="19" height="5" fill="#bc264a"/>
<rect x="278" y="795" width="19" height="6" fill="#a91047"/>
<rect x="278" y="801" width="19" height="5" fill="#9d014d"/>
<rect x="278" y="806" width="19" height="5" fill="#b4227b"/>
<rect x="278" y="811" width="19" height="5" fill="#c8348f"/>
<rect x="278" y="816" width="19" height="6" fill="#d4409a"/>
<rect x="278" y="822" width="19" height="5" fill="#da58a5"/>
<rect x="278" y="827" width="19" height="10" fill="#dd64aa"/>
<rect x="278" y="837" width="19" height="5" fill="#db5da7"/>
<rect x="278" y="842" width="19" height="11" fill="#d74ca0"/>
<rect x="297" y="712" width="19" height="21" fill="#efa057"/>
<rect x="297" y="733" width="19" height="10" fill="#ef9a54"/>
<rect x="297" y="743" width="19" height="5" fill="#ee924e"/>
<rect x="297" y="748" width="19" height="6" fill="#ee8a4a"/>
<rect x="297" y="754" width="19" height="5" fill="#ed8044"/>
<rect x="297" y="759" width="19" height="5" fill="#ec7440"/>
<rect x="297" y="764" width="19" height="5" fill="#eb6c3e"/>
<rect x="297" y="769" width="19" height="5" fill="#ec703f"/>
<rect x="297" y="774" width="19" height="6" fill="#ec7a42"/>
<rect x="297" y="780" width="19" height="5" fill="#ee8a4a"/>
<rect x="297" y="832" width="19" height="10" fill="#cc3a47"/>
<rect x="297" y="842" width="19" height="6" fill="#c93648"/>
<rect x="297" y="848" width="19" height="5" fill="#c6324a"/>
<rect x="316" y="712" width="19" height="5" fill="#f4d685"/>
<rect x="316" y="717" width="19" height="26" fill="#f5de8e"/>
<rect x="316" y="743" width="19" height="5" fill="#f6e698"/>
<rect x="316" y="748" width="19" height="6" fill="#f9f2aa"/>
<rect x="316" y="754" width="19" height="5" fill="#fdfdb6"/>
<rect x="316" y="759" width="19" height="5" fill="#f0f6a6"/>
<rect x="316" y="764" width="19" height="5" fill="#e3ee9a"/>
<rect x="316" y="769" width="19" height="5" fill="#f3f8aa"/>
<rect x="316" y="774" width="19" height="6" fill="#fdfdb6"/>
<rect x="316" y="780" width="19" height="5" fill="#faf5ae"/>
<rect x="335" y="712" width="20" height="5" fill="#f6e698"/>
<rect x="335" y="717" width="20" height="5" fill="#f4d685"/>
<rect x="335" y="722" width="20" height="5" fill="#f2c676"/>
<rect x="335" y="727" width="20" height="6" fill="#efb062"/>
<rect x="335" y="733" width="20" height="5" fill="#efa359"/>
<rect x="335" y="738" width="20" height="5" fill="#ee8e4c"/>
<rect x="335" y="743" width="20" height="16" fill="#ee8547"/>
<rect x="335" y="759" width="20" height="5" fill="#ec7a42"/>
<rect x="335" y="764" width="20" height="21" fill="#ec703f"/>
<rect x="335" y="785" width="20" height="5" fill="#eb6c3e"/>
<rect x="335" y="790" width="20" height="5" fill="#ea673e"/>
<rect x="335" y="795" width="20" height="11" fill="#e55d3e"/>
<rect x="355" y="743" width="19" height="5" fill="#f4d685"/>
<rect x="355" y="748" width="19" height="6" fill="#f3d07e"/>
<rect x="355" y="754" width="19" height="5" fill="#f2c676"/>
<rect x="355" y="759" width="19" height="5" fill="#f0b666"/>
<rect x="355" y="764" width="19" height="21" fill="#efae60"/>
<rect x="355" y="785" width="19" height="5" fill="#efa85c"/>
<rect x="355" y="790" width="19" height="5" fill="#ee8a4a"/>
<rect x="355" y="795" width="19" height="6" fill="#ea673e"/>
<rect x="355" y="801" width="19" height="5" fill="#de5240"/>
<rect x="355" y="806" width="19" height="10" fill="#c6324a"/>
<rect x="355" y="816" width="19" height="11" fill="#cc3a47"/>
<rect x="355" y="827" width="19" height="15" fill="#cf3e46"/>
<rect x="355" y="842" width="19" height="11" fill="#d54642"/>
<rect x="374" y="743" width="18" height="11" fill="#f3d281"/>
<rect x="374" y="754" width="18" height="15" fill="#f2cb7a"/>
<rect x="374" y="769" width="18" height="5" fill="#f6e192"/>
<rect x="374" y="774" width="18" height="6" fill="#f9f2aa"/>
<rect x="374" y="780" width="18" height="5" fill="#fdfdb6"/>
<rect x="374" y="785" width="18" height="5" fill="#ecf3a2"/>
<rect x="374" y="790" width="18" height="5" fill="#fcf9b2"/>
<rect x="374" y="795" width="18" height="6" fill="#f4d685"/>
<rect x="374" y="801" width="18" height="5" fill="#efb062"/>
<rect x="392" y="712" width="20" height="10" fill="#fcf9b2"/>
<rect x="392" y="722" width="20" height="5" fill="#f7ea9f"/>
<rect x="392" y="727" width="20" height="6" fill="#f5dc8c"/>
<rect x="392" y="733" width="20" height="5" fill="#f2cb7a"/>
<rect x="392" y="738" width="20" height="5" fill="#f1bc6a"/>
<rect x="392" y="743" width="20" height="5" fill="#efac5f"/>
<rect x="392" y="748" width="20" height="6" fill="#efa359"/>
<rect x="392" y="754" width="20" height="5" fill="#ee9852"/>
<rect x="392" y="759" width="20" height="5" fill="#ee8e4c"/>
<rect x="392" y="764" width="20" height="5" fill="#ee8547"/>
<rect x="392" y="769" width="20" height="11" fill="#ec7a42"/>
<rect x="392" y="780" width="20" height="26" fill="#eb6c3e"/>
<rect x="412" y="712" width="19" height="31" fill="#ef9c54"/>
<rect x="412" y="743" width="19" height="5" fill="#ee924e"/>
<rect x="412" y="748" width="19" height="6" fill="#ee8a4a"/>
<rect x="412" y="754" width="19" height="5" fill="#ed8044"/>
<rect x="412" y="759" width="19" height="21" fill="#ec7440"/>
<rect x="412" y="780" width="19" height="5" fill="#eb6c3e"/>
<rect x="412" y="785" width="19" height="5" fill="#e8623d"/>
<rect x="412" y="790" width="19" height="5" fill="#e25840"/>
<rect x="412" y="795" width="19" height="11" fill="#e05540"/>
<rect x="431" y="785" width="19" height="5" fill="#fcf9b2"/>
<rect x="431" y="790" width="19" height="5" fill="#f7e89c"/>
<rect x="431" y="795" width="19" height="6" fill="#f2c676"/>
<rect x="431" y="801" width="19" height="5" fill="#efa85c"/>
<rect x="450" y="712" width="19" height="10" fill="#ee9852"/>
<rect x="450" y="722" width="19" height="11" fill="#ee8a4a"/>
<rect x="450" y="733" width="19" height="10" fill="#ed8044"/>
<rect x="450" y="743" width="19" height="37" fill="#ec7440"/>
<rect x="450" y="780" width="19" height="10" fill="#ec7a42"/>
<rect x="450" y="790" width="19" height="5" fill="#eb6c3e"/>
<rect x="450" y="795" width="19" height="11" fill="#e25840"/>
<rect x="469" y="712" width="19" height="10" fill="#f0f6a6"/>
<rect x="469" y="722" width="19" height="11" fill="#fdfdb6"/>
<rect x="469" y="733" width="19" height="5" fill="#faf5ae"/>
<rect x="469" y="738" width="19" height="5" fill="#f9f2aa"/>
<rect x="469" y="743" width="19" height="5" fill="#f8eea6"/>
<rect x="469" y="748" width="19" height="11" fill="#f9f2aa"/>
<rect x="469" y="759" width="19" height="10" fill="#fcf9b2"/>
<rect x="469" y="769" width="19" height="5" fill="#f6e192"/>
<rect x="469" y="774" width="19" height="6" fill="#f2c170"/>
<rect x="469" y="780" width="19" height="5" fill="#ef9e56"/>
<rect x="469" y="785" width="19" height="5" fill="#ec7a42"/>
<rect x="469" y="790" width="19" height="5" fill="#ea673e"/>
<rect x="469" y="795" width="19" height="6" fill="#e55d3e"/>
<rect x="469" y="801" width="19" height="5" fill="#e05540"/>
<rect x="488" y="743" width="19" height="5" fill="#f4d685"/>
<rect x="488" y="748" width="19" height="6" fill="#f5dc8c"/>
<rect x="488" y="754" width="19" height="5" fill="#f6e192"/>
<rect x="488" y="759" width="19" height="5" fill="#f6e698"/>
<rect x="488" y="764" width="19" height="5" fill="#f7ea9f"/>
<rect x="488" y="769" width="19" height="5" fill="#f5dc8c"/>
<rect x="488" y="774" width="19" height="6" fill="#f2c170"/>
<rect x="488" y="780" width="19" height="5" fill="#efac5f"/>
<rect x="488" y="785" width="19" height="5" fill="#ee9852"/>
<rect x="488" y="790" width="19" height="5" fill="#ed8044"/>
<rect x="488" y="795" width="19" height="6" fill="#ea673e"/>
<rect x="488" y="801" width="19" height="5" fill="#de5240"/>
<rect x="488" y="806" width="19" height="16" fill="#cf3e46"/>
<rect x="488" y="822" width="19" height="15" fill="#d24244"/>
<rect x="488" y="837" width="19" height="11" fill="#d84a41"/>
<rect x="488" y="848" width="19" height="5" fill="#e05540"/>
</g>
<rect x="75.5" y="712.5" width="451.0" height="167.0" fill="none" stroke="#000" stroke-width="1.11"/>
<text x="300.1" y="703.7" font-size="16.67" text-anchor="middle">station = S40</text>
<path d="M75.5 720.5h-4.9" stroke="#000" stroke-width="1.11"/>
<text x="65.2" y="725.1" font-size="13.89" text-anchor="end">8000</text>
<path d="M75.5 761.5h-4.9" stroke="#000" stroke-width="1.11"/>
<text x="65.2" y="767.0" font-size="13.89" text-anchor="end">6000</text>
<path d="M75.5 803.5h-4.9" stroke="#000" stroke-width="1.11"/>
<text x="65.2" y="808.8" font-size="13.89" text-anchor="end">4000</text>
<path d="M75.5 845.5h-4.9" stroke="#000" stroke-width="1.11"/>
<text x="65.2" y="850.7" font-size="13.89" text-anchor="end">2000</text>
<path d="M78.5 879.5v4.9" stroke="#000" stroke-width="1.11"/>
<text x="79.2" y="900.8" font-size="13.89" text-anchor="middle" letter-spacing="-0.2">00:00</text>
<path d="M135.5 879.5v4.9" stroke="#000" stroke-width="1.11"/>
<text x="136.3" y="900.8" font-size="13.89" text-anchor="middle" letter-spacing="-0.2">00:30</text>
<path d="M192.5 879.5v4.9" stroke="#000" stroke-width="1.11"/>
<text x="193.5" y="900.8" font-size="13.89" text-anchor="middle" letter-spacing="-0.2">01:00</text>
<path d="M250.5 879.5v4.9" stroke="#000" stroke-width="1.11"/>
<text x="250.6" y="900.8" font-size="13.89" text-anchor="middle" letter-spacing="-0.2">01:30</text>
<path d="M307.5 879.5v4.9" stroke="#000" stroke-width="1.11"/>
<text x="307.7" y="900.8" font-size="13.89" text-anchor="middle" letter-spacing="-0.2">02:00</text>
<path d="M364.5 879.5v4.9" stroke="#000" stroke-width="1.11"/>
<text x="364.9" y="900.8" font-size="13.89" text-anchor="middle" letter-spacing="-0.2">02:30</text>
<path d="M421.5 879.5v4.9" stroke="#000" stroke-width="1.11"/>
<text x="422.0" y="900.8" font-size="13.89" text-anchor="middle" letter-spacing="-0.2">03:00</text>
<path d="M478.5 879.5v4.9" stroke="#000" stroke-width="1.11"/>
<text x="479.1" y="900.8" font-size="13.89" text-anchor="middle" letter-spacing="-0.2">03:30</text>
<text x="525.4" y="918.6" font-size="13.89" text-anchor="end">2025-Mar-05</text>
<text x="299.8" y="919.7" font-size="13.89" text-anchor="middle" xml:space="preserve">Start time of individual radar</text>
<text x="299.8" y="935.7" font-size="13.89" text-anchor="middle" xml:space="preserve">scan volumes  from which</text>
<text x="299.8" y="952.7" font-size="13.89" text-anchor="middle" xml:space="preserve">column are extracted  [UTC</text>
<text x="299.8" y="968.5" font-size="13.89" text-anchor="middle" xml:space="preserve">Time]</text>
<text transform="translate(19.9 797.5) rotate(-90)" font-size="13.89" text-anchor="middle">Height of Radar Beam [m]</text>
<rect x="554.5" y="712.5" width="8.0" height="167.0" fill="url(#cb)" stroke="#000" stroke-width="1.11"/>
<path d="M562.5 862.5h4.9" stroke="#000" stroke-width="1.11"/>
<text x="571.5" y="868.0" font-size="13.89">−<tspan dx="-0.9">20</tspan></text>
<path d="M562.5 826.5h4.9" stroke="#000" stroke-width="1.11"/>
<text x="571.8" y="832.8" font-size="13.89">0</text>
<path d="M562.5 791.5h4.9" stroke="#000" stroke-width="1.11"/>
<text x="571.8" y="797.6" font-size="13.89">20</text>
<path d="M562.5 756.5h4.9" stroke="#000" stroke-width="1.11"/>
<text x="571.8" y="762.3" font-size="13.89">40</text>
<path d="M562.5 721.5h4.9" stroke="#000" stroke-width="1.11"/>
<text x="571.8" y="727.1" font-size="13.89">60</text>
<text transform="translate(617.1 797.6) rotate(-90)" font-size="13.89" text-anchor="middle">Corrected reflectivity [dBZ]</text>
</g>
<g>
<g shape-rendering="crispEdges">
<rect x="751" y="717" width="19" height="26" fill="#cfe48f"/>
<rect x="751" y="743" width="19" height="5" fill="#d3e691"/>
<rect x="751" y="853" width="19" height="5" fill="#eb6c3e"/>
<rect x="751" y="858" width="19" height="5" fill="#de5240"/>
<rect x="770" y="712" width="19" height="5" fill="#dfeb96"/>
<rect x="770" y="717" width="19" height="5" fill="#ecf3a2"/>
<rect x="770" y="722" width="19" height="5" fill="#f6faae"/>
<rect x="770" y="727" width="19" height="11" fill="#fdfdb6"/>
<rect x="770" y="738" width="19" height="5" fill="#f9f2aa"/>
<rect x="770" y="743" width="19" height="5" fill="#f7e89c"/>
<rect x="808" y="748" width="19" height="6" fill="#d7e793"/>
<rect x="808" y="754" width="19" height="5" fill="#e3ee9a"/>
<rect x="808" y="759" width="19" height="5" fill="#f3f8aa"/>
<rect x="808" y="764" width="19" height="5" fill="#fdfdb6"/>
<rect x="808" y="769" width="19" height="5" fill="#f9f2aa"/>
<rect x="808" y="774" width="19" height="6" fill="#f6e192"/>
<rect x="808" y="780" width="19" height="5" fill="#f1bc6a"/>
<rect x="808" y="785" width="19" height="5" fill="#ee8e4c"/>
<rect x="808" y="790" width="19" height="5" fill="#ea673e"/>
<rect x="808" y="795" width="19" height="6" fill="#e25840"/>
<rect x="808" y="801" width="19" height="5" fill="#eb6c3e"/>
<rect x="808" y="806" width="19" height="5" fill="#ec7a42"/>
<rect x="808" y="837" width="19" height="5" fill="#e3ee9a"/>
<rect x="808" y="842" width="19" height="6" fill="#d3e691"/>
<rect x="808" y="848" width="19" height="5" fill="#c2de8c"/>
<rect x="808" y="853" width="19" height="5" fill="#cbe28e"/>
<rect x="808" y="858" width="19" height="5" fill="#d3e691"/>
<rect x="827" y="795" width="19" height="6" fill="#ee8547"/>
<rect x="827" y="801" width="19" height="5" fill="#e8623d"/>
<rect x="827" y="806" width="19" height="5" fill="#d84a41"/>
<rect x="827" y="837" width="19" height="5" fill="#e25840"/>
<rect x="827" y="842" width="19" height="6" fill="#ec703f"/>
<rect x="827" y="848" width="19" height="5" fill="#ed8044"/>
<rect x="827" y="853" width="19" height="5" fill="#ee8e4c"/>
<rect x="827" y="858" width="19" height="5" fill="#efa359"/>
<rect x="846" y="717" width="26" height="5" fill="#dfeb96"/>
<rect x="846" y="722" width="26" height="5" fill="#d7e793"/>
<rect x="846" y="727" width="26" height="6" fill="#cfe48f"/>
<rect x="846" y="733" width="26" height="5" fill="#c7e08c"/>
<rect x="846" y="738" width="26" height="5" fill="#bada8e"/>
<rect x="846" y="743" width="26" height="5" fill="#afd68e"/>
<rect x="846" y="748" width="26" height="6" fill="#d7e793"/>
<rect x="846" y="754" width="26" height="5" fill="#fdfdb6"/>
<rect x="846" y="759" width="26" height="5" fill="#f3d07e"/>
<rect x="846" y="764" width="26" height="5" fill="#efa359"/>
<rect x="846" y="769" width="26" height="5" fill="#ec703f"/>
<rect x="846" y="774" width="26" height="6" fill="#e05540"/>
<rect x="846" y="780" width="26" height="5" fill="#db4e40"/>
<rect x="846" y="785" width="26" height="5" fill="#d54642"/>
<rect x="846" y="790" width="26" height="5" fill="#cf3e46"/>
<rect x="846" y="795" width="26" height="16" fill="#cc3a47"/>
<rect x="846" y="811" width="26" height="5" fill="#ae1648"/>
<rect x="846" y="816" width="26" height="6" fill="#ac1c72"/>
<rect x="846" y="822" width="26" height="5" fill="#d74ca0"/>
<rect x="846" y="827" width="26" height="5" fill="#a20e5e"/>
<rect x="846" y="832" width="26" height="5" fill="#b92349"/>
<rect x="846" y="837" width="26" height="5" fill="#cc3a47"/>
<rect x="846" y="842" width="26" height="6" fill="#cf3e46"/>
<rect x="846" y="848" width="26" height="5" fill="#d54642"/>
<rect x="846" y="853" width="26" height="5" fill="#db4e40"/>
<rect x="846" y="858" width="26" height="5" fill="#e05540"/>
<rect x="872" y="748" width="25" height="6" fill="#e8f09e"/>
<rect x="872" y="754" width="25" height="5" fill="#fdfdb6"/>
<rect x="872" y="759" width="25" height="5" fill="#f7ea9f"/>
<rect x="872" y="764" width="25" height="5" fill="#f3d07e"/>
<rect x="872" y="769" width="25" height="5" fill="#efb062"/>
<rect x="872" y="774" width="25" height="6" fill="#efa359"/>
<rect x="872" y="780" width="25" height="15" fill="#ee9852"/>
<rect x="872" y="795" width="25" height="6" fill="#ee8a4a"/>
<rect x="872" y="801" width="25" height="5" fill="#ec703f"/>
<rect x="872" y="806" width="25" height="5" fill="#e25840"/>
<rect x="872" y="837" width="25" height="5" fill="#db4e40"/>
<rect x="872" y="842" width="25" height="6" fill="#e25840"/>
<rect x="872" y="848" width="25" height="15" fill="#e55d3e"/>
<rect x="897" y="717" width="19" height="5" fill="#bada8e"/>
<rect x="897" y="722" width="19" height="5" fill="#d3e691"/>
<rect x="897" y="727" width="19" height="6" fill="#f0f6a6"/>
<rect x="897" y="733" width="19" height="5" fill="#f9f2aa"/>
<rect x="897" y="738" width="19" height="5" fill="#f5dc8c"/>
<rect x="897" y="743" width="19" height="16" fill="#f2c676"/>
<rect x="897" y="759" width="19" height="5" fill="#f6e192"/>
<rect x="897" y="764" width="19" height="5" fill="#f8eea6"/>
<rect x="897" y="769" width="19" height="5" fill="#fcf9b2"/>
<rect x="897" y="774" width="19" height="6" fill="#fdfdb6"/>
<rect x="897" y="780" width="19" height="5" fill="#faf5ae"/>
<rect x="897" y="785" width="19" height="5" fill="#f8eea6"/>
<rect x="897" y="790" width="19" height="5" fill="#f6e698"/>
<rect x="897" y="795" width="19" height="6" fill="#f5dc8c"/>
<rect x="897" y="801" width="19" height="5" fill="#f3d07e"/>
<rect x="897" y="806" width="19" height="5" fill="#f2c676"/>
<rect x="897" y="837" width="19" height="5" fill="#ef9e56"/>
<rect x="897" y="842" width="19" height="6" fill="#f0b666"/>
<rect x="897" y="848" width="19" height="15" fill="#f2c676"/>
<rect x="916" y="717" width="19" height="5" fill="#ecf3a2"/>
<rect x="916" y="722" width="19" height="5" fill="#fdfdb6"/>
<rect x="916" y="727" width="19" height="6" fill="#f6e698"/>
<rect x="916" y="733" width="19" height="5" fill="#f2c676"/>
<rect x="916" y="738" width="19" height="5" fill="#efa85c"/>
<rect x="916" y="743" width="19" height="5" fill="#ee8e4c"/>
<rect x="916" y="748" width="19" height="6" fill="#ee9852"/>
<rect x="916" y="754" width="19" height="5" fill="#efa85c"/>
<rect x="916" y="759" width="19" height="5" fill="#f0b666"/>
<rect x="916" y="764" width="19" height="5" fill="#f2c676"/>
<rect x="916" y="769" width="19" height="5" fill="#f4d685"/>
<rect x="916" y="774" width="19" height="6" fill="#f6e698"/>
<rect x="916" y="780" width="19" height="10" fill="#f6faae"/>
<rect x="916" y="790" width="19" height="5" fill="#e8f09e"/>
<rect x="916" y="795" width="19" height="6" fill="#f3f8aa"/>
<rect x="916" y="801" width="19" height="5" fill="#f3d07e"/>
<rect x="916" y="806" width="19" height="5" fill="#ee8a4a"/>
<rect x="935" y="748" width="19" height="11" fill="#eb6c3e"/>
<rect x="935" y="759" width="19" height="10" fill="#e8623d"/>
<rect x="935" y="769" width="19" height="5" fill="#e25840"/>
<rect x="935" y="774" width="19" height="6" fill="#de5240"/>
<rect x="935" y="780" width="19" height="5" fill="#d84a41"/>
<rect x="935" y="785" width="19" height="5" fill="#d54642"/>
<rect x="935" y="790" width="19" height="5" fill="#cf3e46"/>
<rect x="935" y="795" width="19" height="6" fill="#c93648"/>
<rect x="935" y="801" width="19" height="10" fill="#bc264a"/>
<rect x="935" y="837" width="19" height="5" fill="#eb6c3e"/>
<rect x="935" y="842" width="19" height="6" fill="#ed8044"/>
<rect x="935" y="848" width="19" height="15" fill="#ee8748"/>
<rect x="954" y="712" width="19" height="5" fill="#efac5f"/>
<rect x="954" y="717" width="19" height="5" fill="#efa359"/>
<rect x="954" y="722" width="19" height="5" fill="#ee9852"/>
<rect x="954" y="727" width="19" height="6" fill="#ee8e4c"/>
<rect x="954" y="733" width="19" height="5" fill="#ee8547"/>
<rect x="954" y="738" width="19" height="5" fill="#ec7a42"/>
<rect x="954" y="743" width="19" height="5" fill="#ec7440"/>
<rect x="954" y="748" width="19" height="11" fill="#eb6c3e"/>
<rect x="954" y="759" width="19" height="10" fill="#ea673e"/>
<rect x="954" y="769" width="19" height="5" fill="#e55d3e"/>
<rect x="954" y="774" width="19" height="6" fill="#e05540"/>
<rect x="954" y="780" width="19" height="5" fill="#db4e40"/>
<rect x="954" y="785" width="19" height="5" fill="#d54642"/>
<rect x="954" y="790" width="19" height="5" fill="#d24244"/>
<rect x="954" y="795" width="19" height="16" fill="#cd3c46"/>
<rect x="954" y="837" width="19" height="16" fill="#ee8e4c"/>
<rect x="954" y="853" width="19" height="5" fill="#ed8044"/>
<rect x="954" y="858" width="19" height="5" fill="#ec703f"/>
<rect x="973" y="712" width="20" height="21" fill="#ee8a4a"/>
<rect x="973" y="733" width="20" height="10" fill="#ed8044"/>
<rect x="973" y="743" width="20" height="5" fill="#ec7440"/>
<rect x="973" y="748" width="20" height="6" fill="#eb6c3e"/>
<rect x="973" y="754" width="20" height="5" fill="#e8623d"/>
<rect x="973" y="759" width="20" height="5" fill="#e25840"/>
<rect x="973" y="764" width="20" height="5" fill="#de5240"/>
<rect x="973" y="769" width="20" height="5" fill="#d84a41"/>
<rect x="973" y="774" width="20" height="6" fill="#cf3e46"/>
<rect x="973" y="780" width="20" height="5" fill="#c22e4a"/>
<rect x="973" y="785" width="20" height="5" fill="#b41c48"/>
<rect x="973" y="790" width="20" height="5" fill="#9e0446"/>
<rect x="973" y="795" width="20" height="6" fill="#9c0050"/>
<rect x="973" y="801" width="20" height="5" fill="#a8176a"/>
<rect x="973" y="806" width="20" height="5" fill="#b4227b"/>
<rect x="973" y="811" width="20" height="5" fill="#c8348f"/>
<rect x="973" y="816" width="20" height="6" fill="#da58a5"/>
<rect x="973" y="822" width="20" height="5" fill="#e07ab6"/>
<rect x="973" y="827" width="20" height="5" fill="#de98c8"/>
<rect x="973" y="832" width="20" height="10" fill="#dca2d0"/>
<rect x="973" y="842" width="20" height="6" fill="#df84bc"/>
<rect x="973" y="848" width="20" height="5" fill="#d4409a"/>
<rect x="973" y="853" width="20" height="5" fill="#b4227b"/>
<rect x="973" y="858" width="20" height="5" fill="#9c0050"/>
<rect x="993" y="712" width="19" height="5" fill="#f7ea9f"/>
<rect x="993" y="717" width="19" height="5" fill="#f4d685"/>
<rect x="993" y="722" width="19" height="5" fill="#f2c676"/>
<rect x="993" y="727" width="19" height="6" fill="#f0b666"/>
<rect x="993" y="733" width="19" height="5" fill="#efa85c"/>
<rect x="993" y="738" width="19" height="5" fill="#ef9e56"/>
<rect x="993" y="743" width="19" height="63" fill="#ee9450"/>
<rect x="993" y="806" width="19" height="10" fill="#ee8a4a"/>
<rect x="993" y="816" width="19" height="6" fill="#ed8044"/>
<rect x="993" y="822" width="19" height="5" fill="#eb6c3e"/>
<rect x="993" y="827" width="19" height="5" fill="#cf3e46"/>
<rect x="993" y="832" width="19" height="5" fill="#b41c48"/>
<rect x="993" y="837" width="19" height="5" fill="#a40a46"/>
<rect x="993" y="842" width="19" height="6" fill="#b41c48"/>
<rect x="993" y="848" width="19" height="5" fill="#bc264a"/>
<rect x="993" y="853" width="19" height="5" fill="#c6324a"/>
<rect x="993" y="858" width="19" height="5" fill="#cc3a47"/>
<rect x="1012" y="717" width="19" height="5" fill="#efa359"/>
<rect x="1012" y="722" width="19" height="11" fill="#ee9852"/>
<rect x="1012" y="733" width="19" height="5" fill="#ee8e4c"/>
<rect x="1012" y="738" width="19" height="5" fill="#ee8547"/>
<rect x="1012" y="743" width="19" height="11" fill="#ec7a42"/>
<rect x="1012" y="754" width="19" height="26" fill="#ec723f"/>
<rect x="1012" y="780" width="19" height="5" fill="#ee8547"/>
<rect x="1012" y="785" width="19" height="5" fill="#ee8e4c"/>
<rect x="1012" y="790" width="19" height="11" fill="#efa057"/>
<rect x="1012" y="801" width="19" height="5" fill="#ee8547"/>
<rect x="1012" y="806" width="19" height="5" fill="#ea673e"/>
<rect x="1012" y="811" width="19" height="5" fill="#de5240"/>
<rect x="1012" y="816" width="19" height="11" fill="#d24244"/>
<rect x="1012" y="827" width="19" height="5" fill="#e25840"/>
<rect x="1012" y="832" width="19" height="10" fill="#ec703f"/>
<rect x="1012" y="842" width="19" height="6" fill="#e8623d"/>
<rect x="1012" y="848" width="19" height="15" fill="#e05540"/>
<rect x="1031" y="717" width="19" height="5" fill="#f7ea9f"/>
<rect x="1031" y="722" width="19" height="5" fill="#f5dc8c"/>
<rect x="1031" y="727" width="19" height="6" fill="#f2cb7a"/>
<rect x="1031" y="733" width="19" height="5" fill="#f1bc6a"/>
<rect x="1031" y="738" width="19" height="5" fill="#efb062"/>
<rect x="1031" y="743" width="19" height="5" fill="#efa85c"/>
<rect x="1031" y="748" width="19" height="11" fill="#efac5f"/>
<rect x="1031" y="759" width="19" height="10" fill="#f1bc6a"/>
<rect x="1031" y="769" width="19" height="11" fill="#f2c676"/>
<rect x="1031" y="780" width="19" height="5" fill="#efac5f"/>
<rect x="1031" y="785" width="19" height="5" fill="#ee8a4a"/>
<rect x="1031" y="790" width="19" height="5" fill="#ec703f"/>
<rect x="1031" y="795" width="19" height="6" fill="#e55d3e"/>
<rect x="1031" y="801" width="19" height="5" fill="#db4e40"/>
<rect x="1031" y="806" width="19" height="5" fill="#cf3e46"/>
<rect x="1031" y="837" width="19" height="5" fill="#de5240"/>
<rect x="1031" y="842" width="19" height="21" fill="#e05540"/>
<rect x="1050" y="712" width="19" height="5" fill="#ed8044"/>
<rect x="1050" y="717" width="19" height="5" fill="#ec703f"/>
<rect x="1050" y="722" width="19" height="5" fill="#ec7a42"/>
<rect x="1050" y="727" width="19" height="6" fill="#ee8547"/>
<rect x="1050" y="733" width="19" height="5" fill="#ee8a4a"/>
<rect x="1050" y="738" width="19" height="5" fill="#ee8e4c"/>
<rect x="1050" y="743" width="19" height="5" fill="#ee924e"/>
<rect x="1050" y="748" width="19" height="6" fill="#ee8e4c"/>
<rect x="1050" y="754" width="19" height="5" fill="#ee8a4a"/>
<rect x="1050" y="759" width="19" height="10" fill="#ed8044"/>
<rect x="1050" y="769" width="19" height="5" fill="#ec7440"/>
<rect x="1050" y="774" width="19" height="6" fill="#eb6c3e"/>
<rect x="1050" y="780" width="19" height="10" fill="#e8623d"/>
<rect x="1050" y="790" width="19" height="16" fill="#e25840"/>
<rect x="1050" y="806" width="19" height="5" fill="#de5240"/>
<rect x="1050" y="811" width="19" height="5" fill="#cc3a47"/>
<rect x="1050" y="816" width="19" height="6" fill="#a91047"/>
<rect x="1050" y="853" width="19" height="10" fill="#ae1648"/>
<rect x="1069" y="717" width="19" height="5" fill="#f4d685"/>
<rect x="1069" y="722" width="19" height="5" fill="#f2cb7a"/>
<rect x="1069" y="727" width="19" height="6" fill="#f1bc6a"/>
<rect x="1069" y="733" width="19" height="5" fill="#efac5f"/>
<rect x="1069" y="738" width="19" height="5" fill="#ef9e56"/>
<rect x="1069" y="743" width="19" height="31" fill="#ee8c4b"/>
<rect x="1069" y="774" width="19" height="6" fill="#ed8044"/>
<rect x="1069" y="780" width="19" height="5" fill="#ec703f"/>
<rect x="1069" y="785" width="19" height="5" fill="#ea673e"/>
<rect x="1069" y="790" width="19" height="16" fill="#e25840"/>
<rect x="1069" y="806" width="19" height="5" fill="#de5240"/>
<rect x="1069" y="811" width="19" height="5" fill="#d84a41"/>
<rect x="1069" y="816" width="19" height="6" fill="#cf3e46"/>
<rect x="1069" y="853" width="19" height="10" fill="#ec7440"/>
<rect x="1088" y="712" width="19" height="5" fill="#efac5f"/>
<rect x="1088" y="717" width="19" height="5" fill="#efa359"/>
<rect x="1088" y="722" width="19" height="11" fill="#ee9852"/>
<rect x="1088" y="733" width="19" height="10" fill="#ee8e4c"/>
<rect x="1088" y="743" width="19" height="11" fill="#ee8547"/>
<rect x="1088" y="754" width="19" height="20" fill="#ee8a4a"/>
<rect x="1088" y="774" width="19" height="6" fill="#ed8044"/>
<rect x="1088" y="780" width="19" height="5" fill="#ec703f"/>
<rect x="1088" y="785" width="19" height="5" fill="#ea673e"/>
<rect x="1088" y="790" width="19" height="5" fill="#e55d3e"/>
<rect x="1088" y="795" width="19" height="6" fill="#e25840"/>
<rect x="1088" y="801" width="19" height="5" fill="#db4e40"/>
<rect x="1088" y="806" width="19" height="5" fill="#d54642"/>
<rect x="1088" y="811" width="19" height="11" fill="#cf3e46"/>
<rect x="1088" y="853" width="19" height="10" fill="#ea673e"/>
<rect x="1107" y="774" width="19" height="6" fill="#ed8044"/>
<rect x="1107" y="780" width="19" height="5" fill="#ec7440"/>
<rect x="1107" y="785" width="19" height="5" fill="#eb6c3e"/>
<rect x="1107" y="790" width="19" height="11" fill="#e55d3e"/>
<rect x="1107" y="801" width="19" height="5" fill="#e8623d"/>
<rect x="1107" y="806" width="19" height="5" fill="#e25840"/>
<rect x="1107" y="811" width="19" height="5" fill="#d84a41"/>
<rect x="1107" y="816" width="19" height="6" fill="#c93648"/>
<rect x="1107" y="853" width="19" height="10" fill="#db4e40"/>
<rect x="1126" y="712" width="19" height="31" fill="#efac5f"/>
<rect x="1126" y="743" width="19" height="5" fill="#efb062"/>
<rect x="1126" y="748" width="19" height="6" fill="#f1bc6a"/>
<rect x="1126" y="754" width="19" height="5" fill="#f4d685"/>
<rect x="1126" y="759" width="19" height="5" fill="#f8eea6"/>
<rect x="1126" y="764" width="19" height="5" fill="#fdfdb6"/>
<rect x="1126" y="769" width="19" height="5" fill="#e3ee9a"/>
<rect x="1126" y="774" width="19" height="6" fill="#d7e793"/>
<rect x="1126" y="780" width="19" height="5" fill="#e8f09e"/>
<rect x="1126" y="785" width="19" height="5" fill="#f6faae"/>
<rect x="1126" y="790" width="19" height="5" fill="#fcf9b2"/>
<rect x="1126" y="795" width="19" height="6" fill="#f6e192"/>
<rect x="1126" y="801" width="19" height="5" fill="#efb062"/>
<rect x="1126" y="806" width="19" height="5" fill="#ec7a42"/>
<rect x="1126" y="811" width="19" height="5" fill="#e8623d"/>
<rect x="1126" y="816" width="19" height="6" fill="#e25840"/>
<rect x="1126" y="822" width="19" height="5" fill="#de5240"/>
<rect x="1126" y="827" width="19" height="5" fill="#eb6c3e"/>
<rect x="1126" y="832" width="19" height="5" fill="#ee8a4a"/>
<rect x="1126" y="837" width="19" height="5" fill="#ee9852"/>
<rect x="1126" y="842" width="19" height="21" fill="#ef9e56"/>
<rect x="1145" y="712" width="19" height="21" fill="#ee924e"/>
<rect x="1145" y="733" width="19" height="10" fill="#ee8a4a"/>
<rect x="1145" y="743" width="19" height="5" fill="#ec7a42"/>
<rect x="1145" y="748" width="19" height="6" fill="#eb6c3e"/>
<rect x="1145" y="754" width="19" height="5" fill="#e8623d"/>
<rect x="1145" y="759" width="19" height="5" fill="#e25840"/>
<rect x="1145" y="764" width="19" height="16" fill="#de5240"/>
<rect x="1145" y="780" width="19" height="10" fill="#e05540"/>
<rect x="1145" y="790" width="19" height="11" fill="#e25840"/>
<rect x="1145" y="801" width="19" height="5" fill="#de5240"/>
<rect x="1145" y="806" width="19" height="5" fill="#d84a41"/>
<rect x="1145" y="837" width="19" height="5" fill="#db4e40"/>
<rect x="1145" y="842" width="19" height="6" fill="#e05540"/>
<rect x="1145" y="848" width="19" height="15" fill="#e55d3e"/>
<rect x="1164" y="712" width="19" height="10" fill="#ee8547"/>
<rect x="1164" y="722" width="19" height="11" fill="#ec7a42"/>
<rect x="1164" y="733" width="19" height="15" fill="#ec703f"/>
<rect x="1164" y="748" width="19" height="6" fill="#ec7a42"/>
<rect x="1164" y="754" width="19" height="5" fill="#ee8547"/>
<rect x="1164" y="759" width="19" height="5" fill="#ee8e4c"/>
<rect x="1164" y="764" width="19" height="5" fill="#ee9852"/>
<rect x="1164" y="769" width="19" height="21" fill="#efa057"/>
<rect x="1164" y="790" width="19" height="5" fill="#ee9852"/>
<rect x="1164" y="795" width="19" height="6" fill="#ee8a4a"/>
<rect x="1164" y="801" width="19" height="5" fill="#ec703f"/>
<rect x="1164" y="806" width="19" height="5" fill="#e25840"/>
<rect x="1164" y="811" width="19" height="5" fill="#db4e40"/>
<rect x="1164" y="816" width="19" height="6" fill="#d54642"/>
<rect x="1164" y="822" width="19" height="5" fill="#cc3a47"/>
<rect x="1164" y="827" width="19" height="10" fill="#c6324a"/>
<rect x="1164" y="837" width="19" height="5" fill="#cc3a47"/>
<rect x="1164" y="842" width="19" height="6" fill="#de5240"/>
<rect x="1164" y="848" width="19" height="15" fill="#e8623d"/>
<rect x="1183" y="748" width="19" height="6" fill="#fdfdb6"/>
<rect x="1183" y="754" width="19" height="5" fill="#f8eea6"/>
<rect x="1183" y="759" width="19" height="5" fill="#f5dc8c"/>
<rect x="1183" y="764" width="19" height="5" fill="#f2c676"/>
<rect x="1183" y="769" width="19" height="5" fill="#f0b666"/>
<rect x="1183" y="774" width="19" height="6" fill="#efac5f"/>
<rect x="1183" y="780" width="19" height="5" fill="#efa359"/>
<rect x="1183" y="785" width="19" height="5" fill="#ee9852"/>
<rect x="1183" y="790" width="19" height="5" fill="#ee8e4c"/>
<rect x="1183" y="795" width="19" height="6" fill="#ee8547"/>
<rect x="1183" y="801" width="19" height="5" fill="#ec7a42"/>
<rect x="1183" y="806" width="19" height="5" fill="#ec703f"/>
<rect x="1183" y="811" width="19" height="16" fill="#ea673e"/>
<rect x="1183" y="827" width="19" height="10" fill="#e8623d"/>
<rect x="1183" y="837" width="19" height="5" fill="#e05540"/>
<rect x="1183" y="842" width="19" height="6" fill="#c93648"/>
<rect x="1183" y="848" width="19" height="5" fill="#b41c48"/>
<rect x="1183" y="853" width="19" height="5" fill="#b62048"/>
<rect x="1183" y="858" width="19" height="5" fill="#be2a4a"/>
</g>
<rect x="751.5" y="712.5" width="451.0" height="167.0" fill="none" stroke="#000" stroke-width="1.11"/>
<text x="976.5" y="703.7" font-size="16.67" text-anchor="middle">station = S13</text>
<path d="M751.5 720.5h-4.9" stroke="#000" stroke-width="1.11"/>
<text x="741.5" y="725.1" font-size="13.89" text-anchor="end">8000</text>
<path d="M751.5 761.5h-4.9" stroke="#000" stroke-width="1.11"/>
<text x="741.5" y="767.0" font-size="13.89" text-anchor="end">6000</text>
<path d="M751.5 803.5h-4.9" stroke="#000" stroke-width="1.11"/>
<text x="741.5" y="808.8" font-size="13.89" text-anchor="end">4000</text>
<path d="M751.5 845.5h-4.9" stroke="#000" stroke-width="1.11"/>
<text x="741.5" y="850.7" font-size="13.89" text-anchor="end">2000</text>
<path d="M755.5 879.5v4.9" stroke="#000" stroke-width="1.11"/>
<text x="755.0" y="900.8" font-size="13.89" text-anchor="middle" letter-spacing="-0.2">00:00</text>
<path d="M812.5 879.5v4.9" stroke="#000" stroke-width="1.11"/>
<text x="812.2" y="900.8" font-size="13.89" text-anchor="middle" letter-spacing="-0.2">00:30</text>
<path d="M869.5 879.5v4.9" stroke="#000" stroke-width="1.11"/>
<text x="869.3" y="900.8" font-size="13.89" text-anchor="middle" letter-spacing="-0.2">01:00</text>
<path d="M926.5 879.5v4.9" stroke="#000" stroke-width="1.11"/>
<text x="926.4" y="900.8" font-size="13.89" text-anchor="middle" letter-spacing="-0.2">01:30</text>
<path d="M983.5 879.5v4.9" stroke="#000" stroke-width="1.11"/>
<text x="983.6" y="900.8" font-size="13.89" text-anchor="middle" letter-spacing="-0.2">02:00</text>
<path d="M1040.5 879.5v4.9" stroke="#000" stroke-width="1.11"/>
<text x="1040.7" y="900.8" font-size="13.89" text-anchor="middle" letter-spacing="-0.2">02:30</text>
<path d="M1097.5 879.5v4.9" stroke="#000" stroke-width="1.11"/>
<text x="1097.8" y="900.8" font-size="13.89" text-anchor="middle" letter-spacing="-0.2">03:00</text>
<path d="M1154.5 879.5v4.9" stroke="#000" stroke-width="1.11"/>
<text x="1155.0" y="900.8" font-size="13.89" text-anchor="middle" letter-spacing="-0.2">03:30</text>
<text x="1202.5" y="918.6" font-size="13.89" text-anchor="end">2025-Mar-05</text>
<text x="976.2" y="919.7" font-size="13.89" text-anchor="middle" xml:space="preserve">Start time of individual radar</text>
<text x="976.2" y="935.7" font-size="13.89" text-anchor="middle" xml:space="preserve">scan volumes  from which</text>
<text x="976.2" y="952.7" font-size="13.89" text-anchor="middle" xml:space="preserve">column are extracted  [UTC</text>
<text x="976.2" y="968.5" font-size="13.89" text-anchor="middle" xml:space="preserve">Time]</text>
<text transform="translate(696.2 797.5) rotate(-90)" font-size="13.89" text-anchor="middle">Height of Radar Beam [m]</text>
<rect x="1230.5" y="712.5" width="9.0" height="167.0" fill="url(#cb)" stroke="#000" stroke-width="1.11"/>
<path d="M1239.5 862.5h4.9" stroke="#000" stroke-width="1.11"/>
<text x="1248.3" y="868.0" font-size="13.89">−<tspan dx="-0.9">20</tspan></text>
<path d="M1239.5 826.5h4.9" stroke="#000" stroke-width="1.11"/>
<text x="1248.5" y="832.8" font-size="13.89">0</text>
<path d="M1239.5 791.5h4.9" stroke="#000" stroke-width="1.11"/>
<text x="1248.5" y="797.6" font-size="13.89">20</text>
<path d="M1239.5 756.5h4.9" stroke="#000" stroke-width="1.11"/>
<text x="1248.5" y="762.3" font-size="13.89">40</text>
<path d="M1239.5 721.5h4.9" stroke="#000" stroke-width="1.11"/>
<text x="1248.5" y="727.1" font-size="13.89">60</text>
<text transform="translate(1292.4 797.6) rotate(-90)" font-size="13.89" text-anchor="middle">Corrected reflectivity [dBZ]</text>
</g>
</svg>
</body></html>
